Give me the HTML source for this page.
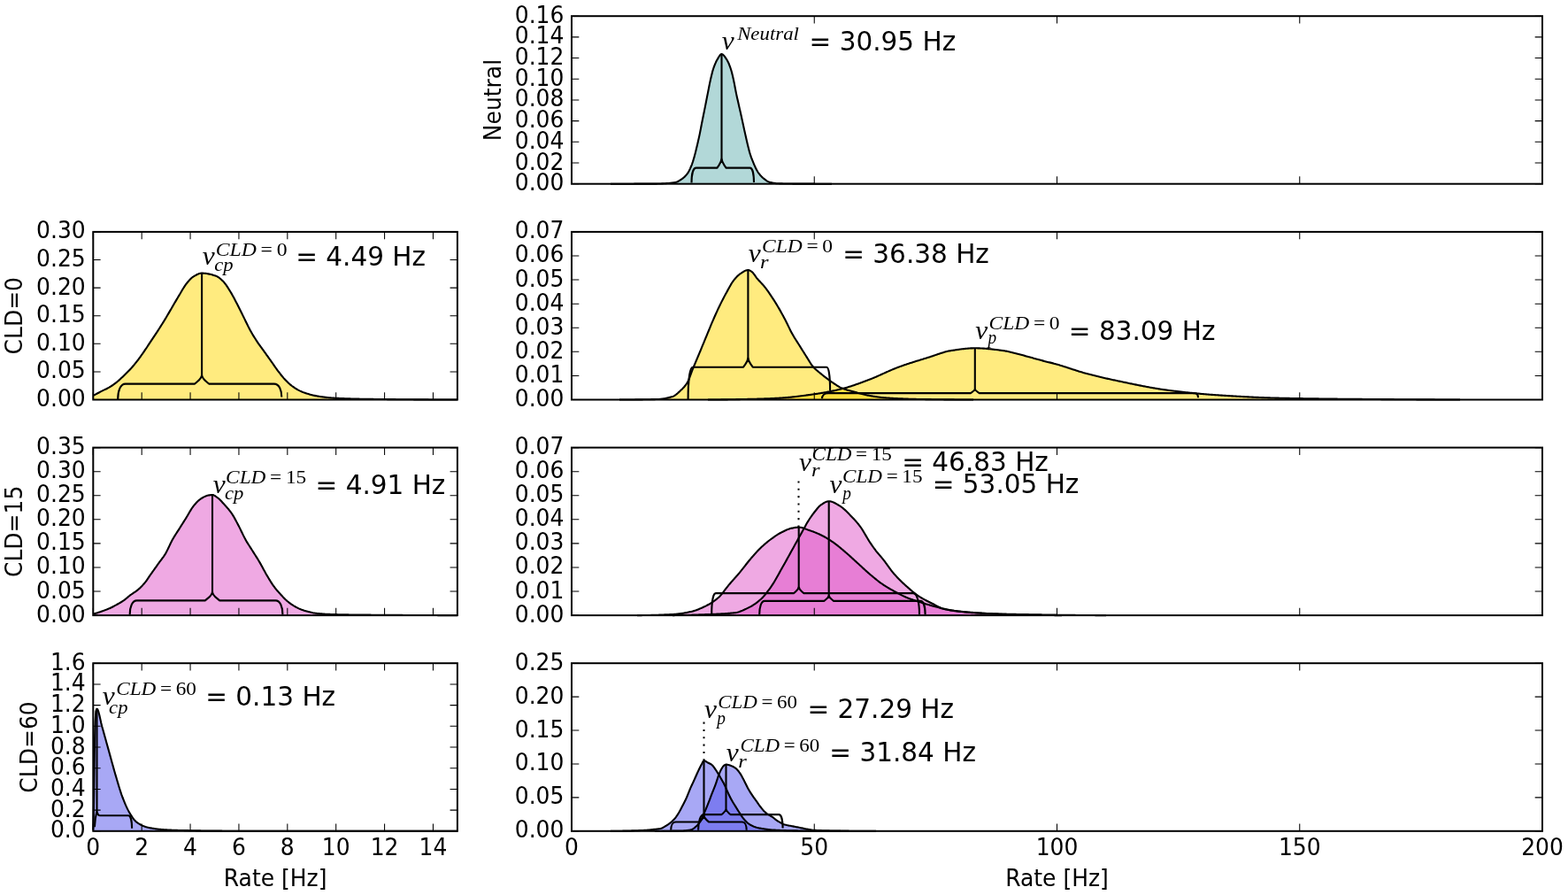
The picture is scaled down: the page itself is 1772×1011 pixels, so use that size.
<!DOCTYPE html>
<html><head><meta charset="utf-8"><title>Rate distributions</title><style>
html,body{margin:0;padding:0;background:#fff;}
svg{display:block;}
.t{font-family:"DejaVu Sans","Liberation Sans",sans-serif;font-size:25px;fill:#000;}
.a{font-family:"DejaVu Sans","Liberation Sans",sans-serif;font-size:29.5px;fill:#000;}
.mi{font-family:"Liberation Serif","DejaVu Serif",serif;font-style:italic;font-size:29.5px;fill:#000;}
.ms{font-family:"Liberation Serif","DejaVu Serif",serif;font-style:italic;font-size:20.4px;fill:#000;}
.mr{font-family:"Liberation Serif","DejaVu Serif",serif;font-size:20.4px;fill:#000;}
</style></head><body>
<svg width="1772" height="1011" viewBox="0 0 1772 1011">
<rect width="1772" height="1011" fill="#fff"/>
<path d="M690 207.7 691 207.7 692 207.7 693 207.7 694 207.7 695 207.7 696 207.7 697 207.7 698 207.7 699 207.7 700 207.7 701 207.7 702 207.7 703 207.69 704 207.69 705 207.69 706 207.69 707 207.69 708 207.69 709 207.69 710 207.69 711 207.69 712 207.68 713 207.68 714 207.68 715 207.68 716 207.68 717 207.67 718 207.67 719 207.67 720 207.67 721 207.67 722 207.66 723 207.66 724 207.66 725 207.66 726 207.65 727 207.65 728 207.65 729 207.64 730 207.64 731 207.64 732 207.63 733 207.63 734 207.63 735 207.62 736 207.62 737 207.61 738 207.61 739 207.6 740 207.6 741 207.59 742 207.58 743 207.56 744 207.53 745 207.51 746 207.47 747 207.43 748 207.39 749 207.34 750 207.29 751 207.24 752 207.18 753 207.12 754 207.06 755 207 756 206.93 757 206.85 758 206.75 759 206.64 760 206.52 761 206.37 762 206.21 763 206.02 763.1 206 764 205.77 765 205.42 766 204.97 767 204.45 768 203.87 769 203.24 770 202.57 770.7 202.1 771 201.89 772 201.14 773 200.3 774 199.37 775 198.32 776 197.15 776.9 196 777 195.86 778 194.31 779 192.45 780 190.33 781 188.01 781.5 186.8 782 185.51 783 182.57 784 179.31 784.5 177.6 785 175.81 786 171.93 787 167.81 787.6 165.3 788 163.62 789 159.33 790 154.86 790.7 151.6 791 150.15 792 145.05 793 139.8 793.7 136.2 794 134.7 795 129.77 796 124.87 796.8 120.9 797 119.89 798 114.8 799 109.66 799.8 105.6 800 104.59 801 99.45 802 94.4 802.9 90.2 803 89.76 804 85.42 805 81.39 806 78 807 75.16 808 72.6 809 70.32 810 68.34 810.6 67.3 811 66.63 812 64.9 813 63.27 814 61.96 815 61.21 815.5 61.1 816 61.17 817 61.7 818 62.65 819 63.9 820 65.34 821 66.85 821.3 67.3 822 68.45 823 70.43 824 72.77 825 75.41 825.9 78 826 78.3 827 81.76 828 85.81 829 90.2 830 95.11 831 100.48 832 105.6 833 110.2 834 114.58 835 118.96 835.1 119.4 836 123.39 837 127.82 838 132.3 838.2 133.2 839 136.86 840 141.5 841 146.1 841.2 147 842 150.61 843 155.09 844 159.43 844.3 160.7 845 163.66 846 167.83 847 171.64 847.4 173 848 174.89 849 177.8 850 180.47 851 182.96 852 185.3 853 187.57 854 189.75 855 191.77 856 193.56 856.6 194.5 857 195.08 858 196.44 859 197.7 860 198.85 861 199.89 862 200.81 862.7 201.4 863 201.64 864 202.43 865 203.19 866 203.91 867 204.56 868 205.13 869 205.59 870 205.93 870.3 206 871 206.15 872 206.36 873 206.55 874 206.72 875 206.87 876 207 877 207.11 878 207.19 879 207.26 880 207.3 881 207.33 882 207.36 883 207.38 884 207.4 885 207.43 886 207.45 887 207.47 888 207.48 889 207.5 890 207.51 891 207.53 892 207.54 893 207.55 894 207.56 895 207.57 896 207.58 897 207.58 898 207.59 899 207.6 900 207.6 901 207.6 902 207.61 903 207.61 904 207.62 905 207.62 906 207.63 907 207.63 908 207.63 909 207.64 910 207.64 911 207.65 912 207.65 913 207.65 914 207.66 915 207.66 916 207.66 917 207.66 918 207.67 919 207.67 920 207.67 921 207.68 922 207.68 923 207.68 924 207.68 925 207.68 926 207.69 927 207.69 928 207.69 929 207.69 930 207.69 931 207.69 932 207.7 933 207.7 934 207.7 935 207.7 936 207.7 937 207.7 938 207.7 939 207.7 940 207.7 L940 207.7 L690 207.7Z" fill="rgb(178,216,216)" stroke="none"/>
<path d="M105.3 446.9 106.3 446.37 107.3 445.83 108.3 445.31 109.31 444.78 110.31 444.25 111.31 443.73 112.31 443.21 113.31 442.69 114.31 442.17 115.31 441.65 115.8 441.4 116.32 441.14 117.32 440.64 118.32 440.16 119.32 439.68 120.32 439.19 121.32 438.69 122.32 438.17 123.33 437.62 123.7 437.4 124.33 437.03 125.33 436.4 126.33 435.75 127.33 435.07 128.33 434.36 129.34 433.63 130.34 432.88 131.34 432.11 131.6 431.9 132.34 431.31 133.34 430.47 134.34 429.6 135.34 428.7 136.35 427.77 137.35 426.84 138.35 425.89 139.35 424.94 139.6 424.7 140.35 423.99 141.35 423.03 142.35 422.06 143.36 421.08 144.36 420.09 145.36 419.07 146.36 418.02 147.36 416.95 147.5 416.8 148.36 415.85 149.36 414.71 150.37 413.54 151.37 412.35 152.37 411.13 153.37 409.88 154.37 408.62 155.37 407.33 155.4 407.3 156.37 406.03 157.38 404.68 158.38 403.31 159.38 401.91 160.38 400.5 161.38 399.07 162.38 397.63 163.3 396.3 163.38 396.18 164.39 394.71 165.39 393.22 166.39 391.71 167.39 390.19 168.39 388.67 169.39 387.14 170.39 385.62 171.2 384.4 171.4 384.1 172.4 382.6 173.4 381.11 174.4 379.61 175.4 378.12 176.4 376.61 177.41 375.1 178.41 373.57 179.1 372.5 179.41 372.02 180.41 370.46 181.41 368.89 182.41 367.31 183.41 365.72 184.42 364.11 185.42 362.49 186.42 360.86 187 359.9 187.42 359.2 188.42 357.53 189.42 355.83 190.42 354.11 191.43 352.38 192.43 350.65 193.43 348.92 194.43 347.2 194.9 346.4 195.43 345.49 196.43 343.78 197.43 342.06 198.44 340.35 199.44 338.64 200.44 336.94 201.44 335.25 202.44 333.59 202.8 333 203.44 331.93 204.44 330.24 205.45 328.53 206.45 326.83 207.45 325.17 208.45 323.58 209.45 322.09 210.45 320.74 210.8 320.3 211.45 319.5 212.46 318.3 213.46 317.13 214.46 316.02 215.46 314.99 216.46 314.06 217.46 313.23 218.46 312.54 218.7 312.4 219.47 311.95 220.47 311.37 221.47 310.8 222.47 310.27 223.47 309.78 224.47 309.36 225.48 309.02 226.48 308.77 227.48 308.63 228.1 308.6 228.48 308.6 229.48 308.63 230.48 308.69 231.48 308.78 232.49 308.89 233.49 309.03 234.49 309.2 235.49 309.39 236.49 309.6 237.49 309.83 238.49 310.07 239.5 310.34 240.5 310.62 241.5 310.91 242.5 311.22 243.5 311.54 243.7 311.6 244.5 311.9 245.5 312.39 246.51 312.99 247.51 313.69 248.51 314.47 249.51 315.31 250.51 316.2 251.51 317.12 251.6 317.2 252.51 318.12 253.52 319.28 254.52 320.57 255.52 321.96 256.52 323.43 257.52 324.95 258.52 326.51 259.52 328.08 259.6 328.2 260.53 329.69 261.53 331.39 262.53 333.15 263.53 334.98 264.53 336.85 265.53 338.75 266.54 340.66 267.5 342.5 267.54 342.57 268.54 344.5 269.54 346.47 270.54 348.47 271.54 350.49 272.54 352.52 273.55 354.56 274.55 356.59 275.4 358.3 275.55 358.6 276.55 360.63 277.55 362.69 278.55 364.77 279.55 366.83 280.56 368.87 281.56 370.84 282.56 372.75 283.3 374.1 283.56 374.56 284.56 376.3 285.56 377.99 286.56 379.64 287.57 381.24 288.57 382.8 289.57 384.34 290.57 385.86 291.2 386.8 291.57 387.35 292.57 388.8 293.57 390.22 294.58 391.61 295.58 392.98 296.58 394.34 297.58 395.7 298.58 397.08 299.1 397.8 299.58 398.48 300.58 399.88 301.59 401.29 302.59 402.69 303.59 404.1 304.59 405.51 305.59 406.92 306.59 408.33 307 408.9 307.59 409.74 308.6 411.17 309.6 412.61 310.6 414.05 311.6 415.49 312.6 416.9 313.6 418.28 314.61 419.62 314.9 420 315.61 420.91 316.61 422.2 317.61 423.48 318.61 424.73 319.61 425.94 320.61 427.12 321.62 428.24 322.62 429.31 322.8 429.5 323.62 430.33 324.62 431.31 325.62 432.27 326.62 433.19 327.62 434.08 328.63 434.92 329.63 435.72 330.63 436.48 330.8 436.6 331.63 437.19 332.63 437.88 333.63 438.54 334.63 439.17 335.64 439.77 336.64 440.34 337.64 440.87 338.64 441.37 338.7 441.4 339.64 441.84 340.64 442.29 341.64 442.71 342.65 443.12 343.65 443.5 344.65 443.86 345.65 444.2 346.6 444.5 346.65 444.52 347.65 444.82 348.65 445.11 349.66 445.4 350.66 445.67 351.66 445.94 352.66 446.2 353.66 446.45 354.66 446.68 355.66 446.9 356.67 447.11 357.67 447.31 358.67 447.49 359.67 447.65 360 447.7 360.67 447.8 361.67 447.95 362.68 448.09 363.68 448.23 364.68 448.36 365.68 448.49 366.68 448.62 367.68 448.74 368.68 448.86 369.69 448.97 370.69 449.08 371.69 449.18 372.69 449.28 373.69 449.37 374.69 449.46 375.69 449.54 376.7 449.61 377.7 449.67 378.7 449.73 379.7 449.79 380 449.8 380.7 449.83 381.7 449.88 382.7 449.92 383.71 449.97 384.71 450.01 385.71 450.05 386.71 450.09 387.71 450.13 388.71 450.17 389.71 450.2 390.72 450.24 391.72 450.27 392.72 450.31 393.72 450.34 394.72 450.37 395.72 450.4 396.72 450.43 397.73 450.46 398.73 450.49 399.73 450.52 400.73 450.55 401.73 450.57 402.73 450.6 403.74 450.62 404.74 450.64 405.74 450.67 406.74 450.69 407.74 450.71 408.74 450.73 409.74 450.75 410.75 450.77 411.75 450.78 412.75 450.8 413.75 450.82 414.75 450.83 415.75 450.85 416.75 450.86 417.76 450.87 418.76 450.89 419.76 450.9 420 450.9 420.76 450.91 421.76 450.92 422.76 450.93 423.76 450.94 424.77 450.95 425.77 450.96 426.77 450.97 427.77 450.98 428.77 450.99 429.77 451 430.77 451.01 431.78 451.03 432.78 451.04 433.78 451.05 434.78 451.06 435.78 451.07 436.78 451.07 437.78 451.08 438.79 451.09 439.79 451.1 440.79 451.11 441.79 451.12 442.79 451.13 443.79 451.14 444.79 451.15 445.8 451.16 446.8 451.17 447.8 451.18 448.8 451.19 449.8 451.19 450.8 451.2 451.81 451.21 452.81 451.22 453.81 451.23 454.81 451.23 455.81 451.24 456.81 451.25 457.81 451.26 458.82 451.27 459.82 451.27 460.82 451.28 461.82 451.29 462.82 451.3 463.82 451.3 464.82 451.31 465.83 451.32 466.83 451.32 467.83 451.33 468.83 451.34 469.83 451.34 470.83 451.35 471.83 451.36 472.84 451.36 473.84 451.37 474.84 451.37 475.84 451.38 476.84 451.38 477.84 451.39 478.84 451.4 479.85 451.4 480.85 451.41 481.85 451.41 482.85 451.42 483.85 451.42 484.85 451.43 485.85 451.43 486.86 451.43 487.86 451.44 488.86 451.44 489.86 451.45 490.86 451.45 491.86 451.45 492.86 451.46 493.87 451.46 494.87 451.46 495.87 451.47 496.87 451.47 497.87 451.47 498.87 451.48 499.88 451.48 500.88 451.48 501.88 451.48 502.88 451.49 503.88 451.49 504.88 451.49 505.88 451.49 506.89 451.49 507.89 451.49 508.89 451.5 509.89 451.5 510.89 451.5 511.89 451.5 512.89 451.5 513.9 451.5 514.9 451.5 515.9 451.5 516.9 451.5 L516.9 451.5 L105.3 451.5Z" fill="rgba(255,215,0,0.5)" stroke="none"/>
<path d="M700 451.5 701 451.5 702 451.5 703 451.5 704 451.5 705 451.49 706 451.49 707 451.49 708 451.49 709 451.48 710 451.48 711 451.47 712 451.47 713 451.46 714 451.45 715 451.45 716 451.44 717 451.43 718 451.42 719 451.41 720 451.4 721 451.39 722 451.38 723 451.37 724 451.36 725 451.35 726 451.33 727 451.32 728 451.3 729 451.29 730 451.27 731 451.26 732 451.24 733 451.22 734 451.2 735 451.19 736 451.17 737 451.15 738 451.12 739 451.1 740 451.08 741 451.06 742 451.03 743 451.01 743.4 451 744 450.98 745 450.93 746 450.86 747 450.77 748 450.66 749 450.53 750 450.38 751 450.22 752 450.03 753 449.83 754 449.61 755 449.38 756 449.13 757 448.87 758 448.59 759 448.3 760 448 761 447.62 762 447.1 763 446.47 764 445.74 765 444.93 766 444.06 767 443.15 768 442.22 769 441.29 769.2 441.1 770 440.35 771 439.38 772 438.35 773 437.24 774 436.05 775 434.75 776 433.31 776.9 431.9 777 431.73 778 429.77 779 427.39 780 424.73 781 421.95 782 419.19 783 416.6 784 414.17 785 411.76 786 409.38 787 407 788 404.63 789 402.26 790 399.88 790.7 398.2 791 397.48 792 395.07 793 392.64 794 390.22 795 387.79 796 385.37 797 382.94 798 380.52 798.3 379.8 799 378.11 800 375.67 801 373.23 802 370.79 803 368.37 804 365.97 805 363.61 806 361.3 807 359.02 808 356.77 809 354.54 810 352.34 811 350.17 812 348.03 813 345.94 813.7 344.5 814 343.89 815 341.87 816 339.89 817 337.93 818 336.01 819 334.12 820 332.26 821 330.44 821.3 329.9 822 328.63 823 326.79 824 324.95 825 323.15 826 321.4 827 319.76 828 318.25 829 316.9 830 315.67 831 314.49 832 313.37 833 312.32 834 311.35 835 310.47 836 309.69 836.7 309.2 837 309 838 308.33 839 307.66 840 307.01 841 306.41 842 305.89 843 305.47 844 305.17 845 305.01 845.4 305 846 305.06 847 305.39 848 305.93 849 306.57 849.5 306.9 850 307.28 851 308.28 852 309.54 853 310.94 854 312.4 855 313.79 855.8 314.8 856 315.03 857 316.17 858 317.25 859 318.31 860 319.36 861 320.42 862 321.52 863 322.66 863.7 323.5 864 323.87 865 325.14 866 326.46 867 327.82 868 329.22 869 330.64 870 332.09 871 333.56 871.7 334.6 872 335.05 873 336.55 874 338.09 875 339.66 876 341.25 877 342.87 878 344.52 879 346.19 879.6 347.2 880 347.88 881 349.61 882 351.37 883 353.15 884 354.97 885 356.81 886 358.67 887 360.55 887.5 361.5 888 362.46 889 364.45 890 366.5 891 368.58 892 370.66 893 372.7 894 374.69 895 376.58 895.4 377.3 896 378.35 897 380.05 898 381.69 899 383.28 900 384.84 901 386.39 902 387.95 903 389.52 903.3 390 904 391.12 905 392.73 906 394.34 907 395.95 908 397.55 909 399.15 910 400.73 911 402.29 911.2 402.6 912 403.86 913 405.48 914 407.11 915 408.73 916 410.3 917 411.79 918 413.16 919 414.39 919.1 414.5 920 415.47 921 416.48 922 417.41 923 418.29 924 419.13 925 419.95 926 420.77 927 421.6 928 422.43 929 423.25 930 424.05 931 424.84 932 425.62 933 426.39 934 427.15 935 427.9 936 428.64 937 429.38 938 430.11 939 430.83 940 431.54 941 432.23 942 432.91 942.9 433.5 943 433.56 944 434.22 945 434.88 946 435.54 947 436.17 948 436.77 949 437.34 950 437.84 950.8 438.2 951 438.28 952 438.68 953 439.06 954 439.42 955 439.76 956 440.08 957 440.39 958 440.69 959 440.97 960 441.25 961 441.52 962 441.78 963 442.05 964 442.31 965 442.57 966 442.84 966.6 443 967 443.11 968 443.38 969 443.66 970 443.93 971 444.21 972 444.48 973 444.75 974 445.01 975 445.27 976 445.52 977 445.76 978 446 979 446.22 980 446.44 981 446.64 982 446.83 982.4 446.9 983 447.01 984 447.18 985 447.35 986 447.52 987 447.69 988 447.85 989 448.01 990 448.16 991 448.31 992 448.45 993 448.58 994 448.71 995 448.83 996 448.94 997 449.05 998 449.14 999 449.23 1000 449.3 1001 449.37 1002 449.44 1003 449.5 1004 449.57 1005 449.63 1006 449.69 1007 449.75 1008 449.81 1009 449.87 1010 449.93 1011 449.99 1012 450.04 1013 450.09 1014 450.14 1015 450.19 1016 450.24 1017 450.29 1018 450.34 1019 450.38 1020 450.42 1021 450.47 1022 450.51 1023 450.55 1024 450.58 1025 450.62 1026 450.66 1027 450.69 1028 450.72 1029 450.75 1030 450.78 1031 450.81 1032 450.84 1033 450.86 1034 450.89 1035 450.91 1036 450.93 1037 450.95 1038 450.97 1039 450.98 1040 451 1041 451.01 1042 451.03 1043 451.04 1044 451.06 1045 451.07 1046 451.08 1047 451.1 1048 451.11 1049 451.13 1050 451.14 1051 451.15 1052 451.16 1053 451.18 1054 451.19 1055 451.2 1056 451.21 1057 451.23 1058 451.24 1059 451.25 1060 451.26 1061 451.27 1062 451.28 1063 451.29 1064 451.3 1065 451.31 1066 451.32 1067 451.33 1068 451.34 1069 451.35 1070 451.36 1071 451.37 1072 451.38 1073 451.38 1074 451.39 1075 451.4 1076 451.41 1077 451.42 1078 451.42 1079 451.43 1080 451.44 1081 451.44 1082 451.45 1083 451.45 1084 451.46 1085 451.46 1086 451.47 1087 451.47 1088 451.48 1089 451.48 1090 451.48 1091 451.49 1092 451.49 1093 451.49 1094 451.49 1095 451.5 1096 451.5 1097 451.5 1098 451.5 1099 451.5 1100 451.5 L1100 451.5 L700 451.5Z" fill="rgba(255,215,0,0.5)" stroke="none"/>
<path d="M800 451.5 801 451.5 802 451.5 803 451.5 804 451.49 805 451.49 806 451.49 807 451.48 808 451.47 809 451.47 810 451.46 811 451.45 812 451.44 813 451.44 814 451.43 815 451.42 816 451.4 817 451.39 818 451.38 819 451.37 820 451.35 821 451.34 822 451.33 823 451.31 824 451.3 825 451.28 826 451.27 827 451.25 828 451.23 829 451.22 830 451.2 831 451.18 832 451.16 833 451.14 834 451.12 835 451.11 836 451.09 837 451.07 838 451.05 839 451.03 840 451.01 841 450.99 842 450.97 843 450.95 844 450.93 845 450.9 846 450.88 847 450.86 848 450.84 849 450.82 850 450.8 851 450.78 852 450.76 853 450.73 854 450.71 855 450.68 856 450.66 857 450.63 858 450.6 859 450.57 860 450.54 861 450.51 862 450.48 863 450.44 864 450.41 865 450.37 866 450.34 867 450.3 868 450.26 869 450.22 870 450.18 871 450.13 872 450.09 873 450.05 874 450 875 449.95 876 449.91 877 449.86 878 449.81 879 449.75 880 449.7 881 449.64 882 449.58 883 449.52 884 449.45 885 449.38 886 449.31 887 449.23 888 449.15 889 449.06 890 448.98 891 448.88 892 448.79 893 448.69 894 448.59 895 448.49 896 448.38 897 448.28 898 448.17 899 448.05 900 447.94 901 447.82 902 447.7 903 447.58 904 447.45 905 447.33 906 447.2 907 447.07 908 446.94 909 446.81 910 446.68 911 446.54 912 446.41 913 446.27 914 446.13 915 445.99 916 445.85 917 445.71 918 445.57 919 445.43 920 445.29 920.6 445.2 921 445.14 922 445 923 444.85 924 444.7 925 444.54 926 444.38 927 444.22 928 444.05 929 443.89 930 443.71 931 443.54 932 443.36 933 443.18 934 442.99 935 442.8 936 442.61 937 442.42 938 442.22 939 442.01 940 441.81 941 441.6 942 441.39 943 441.17 944 440.95 945 440.73 946 440.51 947 440.28 948 440.04 949 439.81 950 439.57 951 439.32 951.1 439.3 952 439.08 953 438.82 954 438.55 955 438.28 956 438 957 437.71 958 437.41 959 437.11 960 436.79 961 436.48 962 436.16 963 435.83 964 435.49 965 435.16 966 434.81 967 434.46 968 434.11 969 433.76 970 433.4 971 433.04 972 432.67 973 432.31 974 431.94 975 431.57 976 431.2 977 430.82 978 430.45 979 430.07 980 429.7 981 429.32 981.6 429.1 982 428.95 983 428.57 984 428.18 985 427.78 986 427.37 987 426.96 988 426.54 989 426.11 990 425.68 991 425.24 992 424.8 993 424.36 994 423.91 995 423.46 996 423.01 997 422.56 998 422.1 999 421.65 1000 421.2 1001 420.74 1002 420.29 1003 419.85 1004 419.4 1005 418.96 1006 418.52 1007 418.09 1008 417.66 1009 417.24 1010 416.82 1011 416.41 1012 416.01 1013 415.61 1014 415.23 1015 414.85 1015.4 414.7 1016 414.48 1017 414.12 1018 413.76 1019 413.4 1020 413.05 1021 412.7 1022 412.36 1023 412.01 1024 411.68 1025 411.34 1026 411.01 1027 410.68 1028 410.35 1029 410.03 1030 409.71 1031 409.39 1032 409.07 1033 408.75 1034 408.43 1035 408.12 1036 407.81 1037 407.5 1038 407.19 1039 406.88 1040 406.57 1041 406.26 1042 405.95 1043 405.64 1044 405.34 1045 405.03 1046 404.72 1047 404.41 1048 404.1 1049 403.79 1049.3 403.7 1050 403.48 1051 403.16 1052 402.83 1053 402.5 1054 402.16 1055 401.81 1056 401.47 1057 401.12 1058 400.77 1059 400.42 1060 400.08 1061 399.74 1062 399.4 1063 399.07 1064 398.75 1065 398.44 1066 398.14 1067 397.84 1068 397.56 1069 397.3 1070 397.05 1071 396.81 1072 396.59 1073 396.39 1074 396.21 1074.7 396.1 1075 396.05 1076 395.9 1077 395.75 1078 395.59 1079 395.44 1080 395.29 1081 395.14 1082 395 1083 394.86 1084 394.72 1085 394.58 1086 394.45 1087 394.33 1088 394.21 1089 394.09 1090 393.98 1091 393.88 1092 393.78 1093 393.7 1094 393.62 1095 393.54 1096 393.48 1097 393.42 1098 393.38 1099 393.34 1100 393.32 1101 393.3 1101.8 393.3 1102 393.3 1103 393.31 1104 393.32 1105 393.34 1106 393.37 1107 393.4 1108 393.44 1109 393.49 1110 393.55 1111 393.61 1112 393.67 1113 393.75 1114 393.82 1115 393.91 1116 393.99 1117 394.08 1118 394.18 1119 394.28 1120 394.38 1121 394.49 1122 394.6 1123 394.72 1124 394.84 1125 394.95 1126 395.08 1127 395.2 1128 395.33 1129 395.46 1130 395.59 1131 395.72 1132 395.85 1133 395.98 1133.9 396.1 1134 396.11 1135 396.26 1136 396.43 1137 396.61 1138 396.81 1139 397.02 1140 397.25 1141 397.49 1142 397.73 1143 397.99 1144 398.25 1145 398.51 1146 398.77 1147 399.03 1148 399.29 1149 399.55 1150 399.8 1151 400.05 1152 400.3 1153 400.56 1154 400.81 1155 401.08 1156 401.34 1157 401.61 1158 401.87 1159 402.15 1160 402.42 1161 402.69 1162 402.97 1163 403.24 1164 403.52 1165 403.8 1166 404.08 1167 404.36 1168 404.64 1169 404.92 1170 405.19 1171 405.47 1172 405.75 1173 406.02 1174 406.3 1175 406.57 1176 406.84 1177 407.11 1178 407.38 1179 407.64 1180 407.9 1181 408.16 1182 408.41 1183 408.66 1184 408.9 1185 409.15 1186 409.39 1187 409.64 1188 409.89 1189 410.14 1190 410.39 1191 410.65 1192 410.92 1192.3 411 1193 411.19 1194 411.47 1195 411.76 1196 412.05 1197 412.34 1198 412.64 1199 412.95 1200 413.26 1201 413.57 1202 413.88 1203 414.2 1204 414.52 1205 414.84 1206 415.17 1207 415.49 1208 415.82 1209 416.15 1210 416.47 1211 416.8 1212 417.13 1213 417.45 1214 417.78 1215 418.1 1216 418.43 1217 418.75 1218 419.06 1219 419.38 1220 419.69 1221 420 1222 420.3 1223 420.6 1224 420.9 1225 421.19 1226 421.48 1227 421.76 1228 422.03 1229 422.3 1230 422.56 1231 422.83 1232 423.08 1233 423.34 1234 423.6 1235 423.85 1236 424.1 1237 424.35 1238 424.59 1239 424.84 1240 425.08 1241 425.32 1242 425.56 1243 425.8 1244 426.03 1245 426.27 1246 426.5 1247 426.73 1248 426.96 1249 427.18 1250 427.41 1251 427.63 1252 427.86 1253 428.08 1254 428.3 1255 428.52 1256 428.73 1257 428.95 1258 429.16 1259 429.38 1260 429.59 1261 429.8 1262 430.01 1262.9 430.2 1263 430.22 1264 430.43 1265 430.64 1266 430.85 1267 431.06 1268 431.27 1269 431.48 1270 431.69 1271 431.9 1272 432.11 1273 432.32 1274 432.53 1275 432.74 1276 432.95 1277 433.16 1278 433.36 1279 433.57 1280 433.78 1281 433.98 1282 434.19 1283 434.39 1284 434.6 1285 434.8 1286 435 1287 435.2 1288 435.4 1289 435.6 1290 435.79 1291 435.99 1292 436.18 1293 436.38 1294 436.57 1295 436.76 1296 436.95 1297 437.13 1298 437.32 1299 437.5 1300 437.68 1301 437.86 1302 438.03 1303 438.21 1304 438.38 1305 438.55 1306 438.72 1307 438.88 1308 439.05 1309 439.21 1310 439.37 1311 439.52 1312 439.67 1313 439.82 1314 439.97 1315 440.11 1316 440.26 1317 440.39 1318 440.53 1319 440.66 1319.3 440.7 1320 440.79 1321 440.92 1322 441.05 1323 441.17 1324 441.3 1325 441.42 1326 441.55 1327 441.67 1328 441.79 1329 441.91 1330 442.03 1331 442.15 1332 442.27 1333 442.38 1334 442.5 1335 442.61 1336 442.73 1337 442.84 1338 442.95 1339 443.06 1340 443.17 1341 443.28 1342 443.38 1343 443.49 1344 443.59 1345 443.7 1346 443.8 1347 443.9 1348 444 1349 444.1 1350 444.2 1351 444.29 1352 444.39 1353 444.48 1354 444.58 1355 444.67 1356 444.76 1357 444.85 1358 444.94 1359 445.02 1360 445.11 1361 445.2 1362 445.28 1363 445.36 1364 445.44 1365 445.52 1366 445.6 1367 445.68 1368 445.76 1369 445.83 1370 445.9 1371 445.98 1372 446.05 1373 446.12 1374 446.19 1375 446.25 1375.7 446.3 1376 446.32 1377 446.39 1378 446.45 1379 446.52 1380 446.58 1381 446.64 1382 446.71 1383 446.77 1384 446.84 1385 446.9 1386 446.96 1387 447.03 1388 447.09 1389 447.15 1390 447.21 1391 447.27 1392 447.33 1393 447.39 1394 447.45 1395 447.51 1396 447.57 1397 447.63 1398 447.69 1399 447.75 1400 447.8 1401 447.86 1402 447.92 1403 447.97 1404 448.03 1405 448.08 1406 448.14 1407 448.19 1408 448.24 1409 448.29 1410 448.35 1411 448.4 1412 448.45 1413 448.5 1414 448.55 1415 448.59 1416 448.64 1417 448.69 1418 448.74 1419 448.78 1420 448.83 1421 448.87 1422 448.91 1423 448.96 1424 449 1425 449.04 1426 449.08 1427 449.12 1428 449.16 1429 449.19 1430 449.23 1431 449.27 1432 449.3 1433 449.34 1434 449.37 1435 449.4 1436 449.43 1437 449.46 1438 449.49 1439 449.52 1440 449.55 1441 449.58 1442 449.6 1443 449.63 1444 449.65 1445 449.67 1446 449.69 1446.3 449.7 1447 449.71 1448 449.73 1449 449.76 1450 449.78 1451 449.79 1452 449.81 1453 449.83 1454 449.85 1455 449.87 1456 449.89 1457 449.91 1458 449.93 1459 449.95 1460 449.96 1461 449.98 1462 450 1463 450.02 1464 450.03 1465 450.05 1466 450.07 1467 450.09 1468 450.1 1469 450.12 1470 450.13 1471 450.15 1472 450.17 1473 450.18 1474 450.2 1475 450.21 1476 450.23 1477 450.24 1478 450.26 1479 450.27 1480 450.29 1481 450.3 1482 450.32 1483 450.33 1484 450.34 1485 450.36 1486 450.37 1487 450.38 1488 450.4 1489 450.41 1490 450.42 1491 450.44 1492 450.45 1493 450.46 1494 450.48 1495 450.49 1496 450.5 1497 450.51 1498 450.52 1499 450.54 1500 450.55 1501 450.56 1502 450.57 1503 450.58 1504 450.59 1505 450.6 1506 450.61 1507 450.63 1508 450.64 1509 450.65 1510 450.66 1511 450.67 1512 450.68 1513 450.69 1514 450.7 1515 450.71 1516 450.72 1517 450.73 1518 450.74 1519 450.75 1520 450.76 1521 450.77 1522 450.77 1523 450.78 1524 450.79 1525 450.8 1526 450.81 1527 450.82 1528 450.83 1529 450.84 1530 450.85 1531 450.85 1532 450.86 1533 450.87 1534 450.88 1535 450.89 1536 450.89 1537 450.9 1538 450.91 1539 450.92 1540 450.93 1541 450.93 1542 450.94 1543 450.95 1544 450.96 1545 450.96 1546 450.97 1547 450.98 1548 450.99 1549 450.99 1550 451 1551 451.01 1552 451.01 1553 451.02 1554 451.03 1555 451.04 1556 451.04 1557 451.05 1558 451.06 1559 451.06 1560 451.07 1561 451.08 1562 451.08 1563 451.09 1564 451.1 1565 451.11 1566 451.11 1567 451.12 1568 451.13 1569 451.13 1570 451.14 1571 451.15 1572 451.15 1573 451.16 1574 451.17 1575 451.17 1576 451.18 1577 451.19 1578 451.19 1579 451.2 1580 451.2 1581 451.21 1582 451.22 1583 451.22 1584 451.23 1585 451.24 1586 451.24 1587 451.25 1588 451.25 1589 451.26 1590 451.27 1591 451.27 1592 451.28 1593 451.28 1594 451.29 1595 451.3 1596 451.3 1597 451.31 1598 451.31 1599 451.32 1600 451.32 1601 451.33 1602 451.33 1603 451.34 1604 451.34 1605 451.35 1606 451.35 1607 451.36 1608 451.36 1609 451.37 1610 451.37 1611 451.38 1612 451.38 1613 451.39 1614 451.39 1615 451.4 1616 451.4 1617 451.41 1618 451.41 1619 451.41 1620 451.42 1621 451.42 1622 451.43 1623 451.43 1624 451.43 1625 451.44 1626 451.44 1627 451.44 1628 451.45 1629 451.45 1630 451.45 1631 451.46 1632 451.46 1633 451.46 1634 451.47 1635 451.47 1636 451.47 1637 451.47 1638 451.48 1639 451.48 1640 451.48 1641 451.48 1642 451.49 1643 451.49 1644 451.49 1645 451.49 1646 451.49 1647 451.5 1648 451.5 1649 451.5 1650 451.5 L1650 451.5 L800 451.5Z" fill="rgba(255,215,0,0.5)" stroke="none"/>
<path d="M105.3 693.6 106.3 693.32 107.3 693.04 108.3 692.75 109.31 692.44 110.31 692.13 111.31 691.81 112.31 691.49 113.31 691.16 114.31 690.82 115.31 690.47 115.8 690.3 116.32 690.12 117.32 689.76 118.32 689.39 119.32 689.01 120.32 688.61 121.32 688.21 122.32 687.79 123.33 687.36 123.7 687.2 124.33 686.92 125.33 686.45 126.33 685.97 127.33 685.47 128.33 684.95 129.34 684.43 130.34 683.89 131.34 683.34 131.6 683.2 132.34 682.79 133.34 682.23 134.34 681.67 135.34 681.09 136.35 680.49 137.35 679.87 138.35 679.24 139.35 678.57 139.6 678.4 140.35 677.87 141.35 677.11 142.35 676.3 143.36 675.47 144.36 674.63 145.36 673.79 146.36 672.98 147.36 672.2 147.5 672.1 148.36 671.48 149.36 670.79 150.37 670.13 151.37 669.48 152.37 668.82 153.37 668.13 154.37 667.41 155.37 666.62 155.4 666.6 156.37 665.78 157.38 664.89 158.38 663.95 159.38 662.96 160.38 661.94 161.38 660.87 162.38 659.75 163.3 658.7 163.38 658.6 164.39 657.37 165.39 656.03 166.39 654.63 167.39 653.18 168.39 651.7 169.39 650.21 170.39 648.75 171.2 647.6 171.4 647.32 172.4 645.92 173.4 644.51 174.4 643.1 175.4 641.7 176.4 640.29 177.41 638.88 178.41 637.47 179.1 636.5 179.41 636.07 180.41 634.7 181.41 633.37 182.41 632.04 183.41 630.7 184.42 629.32 185.42 627.87 186.42 626.34 187 625.4 187.42 624.69 188.42 622.84 189.42 620.85 190.42 618.75 191.43 616.6 192.43 614.47 193.43 612.4 194.43 610.46 194.9 609.6 195.43 608.67 196.43 606.98 197.43 605.35 198.44 603.76 199.44 602.21 200.44 600.67 201.44 599.13 202.44 597.57 202.8 597 203.44 595.98 204.44 594.39 205.45 592.8 206.45 591.21 207.45 589.63 208.45 588.04 209.45 586.45 210.45 584.85 210.8 584.3 211.45 583.23 212.46 581.55 213.46 579.82 214.46 578.09 215.46 576.39 216.46 574.77 217.46 573.26 218.46 571.9 218.7 571.6 219.47 570.67 220.47 569.48 221.47 568.34 222.47 567.27 223.47 566.27 224.47 565.34 225.48 564.51 226.48 563.78 226.6 563.7 227.48 563.13 228.48 562.5 229.48 561.9 230.48 561.35 231.48 560.85 232.49 560.42 233.49 560.07 234.49 559.8 234.5 559.8 235.49 559.59 236.49 559.38 237.49 559.21 238.49 559.08 239.5 559.01 240 559 240.5 559.04 241.5 559.33 242.5 559.84 243.5 560.5 244.5 561.24 245.5 561.99 245.8 562.2 246.51 562.73 247.51 563.57 248.51 564.5 249.51 565.51 250.51 566.58 251.51 567.68 252.51 568.79 253.52 569.9 253.7 570.1 254.52 570.99 255.52 572.09 256.52 573.21 257.52 574.36 258.52 575.55 259.52 576.8 260.53 578.11 261.53 579.5 261.6 579.6 262.53 580.99 263.53 582.61 264.53 584.33 265.53 586.13 266.54 587.99 267.54 589.88 268.54 591.79 269.54 593.69 269.6 593.8 270.54 595.62 271.54 597.63 272.54 599.7 273.55 601.79 274.55 603.86 275.55 605.89 276.55 607.85 277.5 609.6 277.55 609.69 278.55 611.43 279.55 613.1 280.56 614.72 281.56 616.3 282.56 617.85 283.56 619.41 284.56 620.97 285.4 622.3 285.56 622.56 286.56 624.15 287.57 625.72 288.57 627.28 289.57 628.85 290.57 630.43 291.57 632.04 292.57 633.68 293.3 634.9 293.57 635.37 294.58 637.13 295.58 638.94 296.58 640.8 297.58 642.67 298.58 644.53 299.58 646.36 300.58 648.14 301.2 649.2 301.59 649.86 302.59 651.55 303.59 653.24 304.59 654.9 305.59 656.53 306.59 658.12 307.59 659.64 308.6 661.1 309.1 661.8 309.6 662.48 310.6 663.79 311.6 665.06 312.6 666.29 313.6 667.48 314.61 668.63 315.61 669.76 316.61 670.87 317 671.3 317.61 671.96 318.61 673.05 319.61 674.12 320.61 675.16 321.62 676.18 322.62 677.16 323.62 678.09 324.62 678.97 324.9 679.2 325.62 679.79 326.62 680.59 327.62 681.35 328.63 682.09 329.63 682.79 330.63 683.46 331.63 684.1 332.63 684.7 332.8 684.8 333.63 685.28 334.63 685.83 335.64 686.36 336.64 686.87 337.64 687.36 338.64 687.82 339.64 688.24 340.64 688.64 340.8 688.7 341.64 689.01 342.65 689.36 343.65 689.69 344.65 690 345.65 690.29 346.65 690.57 347.65 690.84 348.65 691.09 348.7 691.1 349.66 691.33 350.66 691.57 351.66 691.8 352.66 692.02 353.66 692.23 354.66 692.41 355.66 692.57 356.6 692.7 356.67 692.71 357.67 692.83 358.67 692.94 359.67 693.05 360.67 693.15 361.67 693.24 362.68 693.33 363.68 693.42 364.68 693.5 365.68 693.57 366.68 693.63 367.68 693.69 368.68 693.74 369.69 693.79 370 693.8 370.69 693.83 371.69 693.86 372.69 693.9 373.69 693.94 374.69 693.97 375.69 694 376.7 694.04 377.7 694.07 378.7 694.1 379.7 694.13 380.7 694.15 381.7 694.18 382.7 694.21 383.71 694.23 384.71 694.25 385.71 694.28 386.71 694.3 387.71 694.32 388.71 694.34 389.71 694.36 390.72 694.38 391.72 694.39 392.72 694.41 393.72 694.42 394.72 694.44 395.72 694.45 396.72 694.46 397.73 694.48 398.73 694.49 399.73 694.5 400 694.5 400.73 694.51 401.73 694.52 402.73 694.53 403.74 694.54 404.74 694.54 405.74 694.55 406.74 694.56 407.74 694.57 408.74 694.58 409.74 694.59 410.75 694.6 411.75 694.61 412.75 694.62 413.75 694.63 414.75 694.63 415.75 694.64 416.75 694.65 417.76 694.66 418.76 694.67 419.76 694.68 420.76 694.69 421.76 694.69 422.76 694.7 423.76 694.71 424.77 694.72 425.77 694.73 426.77 694.73 427.77 694.74 428.77 694.75 429.77 694.76 430.77 694.76 431.78 694.77 432.78 694.78 433.78 694.79 434.78 694.79 435.78 694.8 436.78 694.81 437.78 694.81 438.79 694.82 439.79 694.83 440.79 694.83 441.79 694.84 442.79 694.85 443.79 694.85 444.79 694.86 445.8 694.87 446.8 694.87 447.8 694.88 448.8 694.89 449.8 694.89 450.8 694.9 451.81 694.9 452.81 694.91 453.81 694.92 454.81 694.92 455.81 694.93 456.81 694.93 457.81 694.94 458.82 694.94 459.82 694.95 460.82 694.95 461.82 694.96 462.82 694.96 463.82 694.97 464.82 694.97 465.83 694.98 466.83 694.98 467.83 694.99 468.83 694.99 469.83 695 470.83 695 471.83 695 472.84 695.01 473.84 695.01 474.84 695.02 475.84 695.02 476.84 695.02 477.84 695.03 478.84 695.03 479.85 695.03 480.85 695.04 481.85 695.04 482.85 695.04 483.85 695.05 484.85 695.05 485.85 695.05 486.86 695.06 487.86 695.06 488.86 695.06 489.86 695.06 490.86 695.07 491.86 695.07 492.86 695.07 493.87 695.07 494.87 695.08 495.87 695.08 496.87 695.08 497.87 695.08 498.87 695.08 499.88 695.09 500.88 695.09 501.88 695.09 502.88 695.09 503.88 695.09 504.88 695.09 505.88 695.09 506.89 695.1 507.89 695.1 508.89 695.1 509.89 695.1 510.89 695.1 511.89 695.1 512.89 695.1 513.9 695.1 514.9 695.1 515.9 695.1 516.9 695.1 L516.9 695.1 L105.3 695.1Z" fill="rgba(223,83,199,0.5)" stroke="none"/>
<path d="M720 695.1 721 695.1 722 695.1 723 695.09 724 695.09 725 695.08 726 695.07 727 695.06 728 695.05 729 695.04 730 695.02 731 695.01 732 694.99 733 694.97 734 694.95 735 694.93 736 694.91 737 694.88 738 694.86 739 694.83 740 694.81 741 694.78 742 694.75 743 694.72 744 694.68 745 694.65 746 694.61 747 694.58 748 694.54 749 694.5 750 694.46 751 694.42 752 694.38 753 694.34 754 694.3 755 694.25 756 694.21 757 694.16 758 694.11 759 694.06 760 694.01 760.3 694 761 693.96 762 693.9 763 693.82 764 693.73 765 693.63 766 693.53 767 693.41 768 693.28 769 693.14 770 692.99 771 692.84 772 692.67 773 692.5 774 692.32 775 692.14 776 691.95 777 691.75 778 691.55 779 691.34 780 691.13 780.6 691 781 690.91 782 690.67 783 690.41 784 690.13 785 689.82 786 689.5 787 689.15 788 688.78 789 688.4 790 688 791 687.59 792 687.16 793 686.71 794 686.26 795 685.79 796 685.31 797 684.82 798 684.32 799 683.81 800 683.3 801 682.77 802 682.21 803 681.62 804 681 805 680.34 806 679.66 807 678.95 808 678.21 809 677.43 810 676.62 811 675.78 811.9 675 812 674.91 813 673.96 814 672.91 815 671.77 816 670.57 817 669.31 818 668.02 819 666.7 820 665.38 821 664.07 822 662.78 823 661.54 823.7 660.7 824 660.35 825 659.19 826 658.04 827 656.91 828 655.78 829 654.66 830 653.54 831 652.41 832 651.28 833 650.14 834 648.98 835 647.81 835.6 647.1 836 646.62 837 645.4 838 644.15 839 642.89 840 641.61 841 640.32 842 639.04 843 637.76 844 636.48 845 635.23 846 634 847 632.79 847.5 632.2 848 631.61 849 630.44 850 629.28 851 628.12 852 626.97 853 625.84 854 624.72 855 623.62 856 622.54 857 621.5 858 620.48 859 619.49 859.3 619.2 860 618.53 861 617.6 862 616.68 863 615.78 864 614.89 865 614.03 866 613.18 867 612.36 868 611.55 869 610.76 870 610 871 609.25 871.2 609.1 872 608.51 873 607.79 874 607.07 875 606.36 876 605.67 877 605 878 604.34 879 603.71 880 603.1 881 602.52 882 601.97 883 601.45 883.1 601.4 884 600.95 885 600.45 886 599.96 887 599.48 888 599.01 889 598.56 890 598.14 891 597.75 892 597.4 893 597.08 894 596.82 895 596.6 896 596.41 897 596.22 898 596.05 899 595.9 900 595.77 901 595.67 902 595.61 902.7 595.6 903 595.6 904 595.68 905 595.83 906 596.04 907 596.32 908 596.63 909 596.99 910 597.36 911 597.74 912 598.12 913 598.49 913.9 598.8 914 598.83 915 599.17 916 599.51 917 599.87 918 600.23 919 600.6 920 600.98 921 601.38 922 601.78 923 602.19 924 602.62 925 603.06 926 603.51 927 603.97 927.7 604.3 928 604.44 929 604.94 930 605.45 931 605.99 932 606.54 933 607.11 934 607.7 935 608.3 936 608.92 937 609.55 938 610.19 939 610.85 940 611.51 941 612.19 941.6 612.6 942 612.88 943 613.59 944 614.32 945 615.08 946 615.85 947 616.65 948 617.46 949 618.28 950 619.11 951 619.96 952 620.8 953 621.66 954 622.51 955 623.36 955.4 623.7 956 624.21 957 625.08 958 625.95 959 626.84 960 627.73 961 628.63 962 629.54 963 630.45 964 631.36 965 632.28 966 633.2 967 634.11 968 635.02 969 635.93 969.3 636.2 970 636.83 971 637.75 972 638.67 973 639.59 974 640.51 975 641.44 976 642.37 977 643.29 978 644.2 979 645.11 980 646 981 646.89 982 647.76 983 648.62 983.1 648.7 984 649.46 985 650.3 986 651.14 987 651.98 988 652.81 989 653.63 990 654.44 991 655.24 992 656.03 993 656.8 994 657.55 995 658.29 996 659.01 997 659.7 998 660.38 999 661.04 1000 661.68 1001 662.31 1002 662.94 1003 663.54 1004 664.14 1005 664.73 1006 665.31 1007 665.88 1008 666.45 1009 667.01 1010 667.56 1010.8 668 1011 668.11 1012 668.66 1013 669.2 1014 669.75 1015 670.29 1016 670.82 1017 671.35 1018 671.87 1019 672.37 1020 672.87 1021 673.35 1022 673.82 1023 674.27 1024 674.71 1024.7 675 1025 675.12 1026 675.52 1027 675.91 1028 676.28 1029 676.65 1030 677 1031 677.35 1032 677.69 1033 678.02 1034 678.35 1035 678.67 1036 678.99 1037 679.32 1038 679.64 1038.5 679.8 1039 679.96 1040 680.28 1041 680.6 1042 680.92 1043 681.24 1044 681.55 1045 681.86 1046 682.16 1047 682.46 1048 682.76 1049 683.05 1050 683.34 1051 683.62 1052 683.89 1052.4 684 1053 684.16 1054 684.44 1055 684.71 1056 684.99 1057 685.26 1058 685.54 1059 685.81 1060 686.09 1061 686.36 1062 686.62 1063 686.89 1064 687.15 1065 687.4 1066 687.65 1067 687.89 1068 688.13 1069 688.36 1070 688.58 1071 688.78 1072 688.98 1073 689.17 1074 689.35 1075 689.52 1076 689.67 1076.2 689.7 1077 689.81 1078 689.95 1079 690.09 1080 690.23 1081 690.36 1082 690.49 1083 690.61 1084 690.74 1085 690.85 1086 690.97 1087 691.08 1088 691.19 1089 691.3 1090 691.4 1091 691.5 1092 691.59 1093 691.68 1094 691.77 1095 691.85 1096 691.93 1097 692.01 1098 692.08 1099 692.15 1100 692.21 1101 692.27 1101.6 692.3 1102 692.32 1103 692.37 1104 692.43 1105 692.48 1106 692.53 1107 692.57 1108 692.62 1109 692.67 1110 692.72 1111 692.76 1112 692.81 1113 692.85 1114 692.89 1115 692.93 1116 692.98 1117 693.02 1118 693.06 1119 693.09 1120 693.13 1121 693.17 1122 693.21 1123 693.24 1124 693.28 1125 693.31 1126 693.34 1127 693.38 1128 693.41 1129 693.44 1130 693.47 1131 693.5 1132 693.53 1133 693.56 1134 693.59 1135 693.61 1136 693.64 1137 693.67 1138 693.69 1139 693.72 1140 693.74 1141 693.77 1142 693.79 1143 693.81 1144 693.83 1145 693.86 1146 693.88 1147 693.9 1148 693.92 1149 693.94 1150 693.96 1151 693.97 1152 693.99 1152.4 694 1153 694.01 1154 694.03 1155 694.05 1156 694.06 1157 694.08 1158 694.1 1159 694.12 1160 694.13 1161 694.15 1162 694.17 1163 694.19 1164 694.2 1165 694.22 1166 694.24 1167 694.25 1168 694.27 1169 694.29 1170 694.3 1171 694.32 1172 694.34 1173 694.35 1174 694.37 1175 694.39 1176 694.4 1177 694.42 1178 694.44 1179 694.45 1180 694.47 1181 694.48 1182 694.5 1183 694.51 1184 694.53 1185 694.54 1186 694.56 1187 694.57 1188 694.59 1189 694.6 1190 694.62 1191 694.63 1192 694.65 1193 694.66 1194 694.67 1195 694.69 1196 694.7 1197 694.71 1198 694.73 1199 694.74 1200 694.75 1201 694.76 1202 694.78 1203 694.79 1204 694.8 1205 694.81 1206 694.82 1207 694.84 1208 694.85 1209 694.86 1210 694.87 1211 694.88 1212 694.89 1213 694.9 1214 694.91 1215 694.92 1216 694.93 1217 694.94 1218 694.95 1219 694.96 1220 694.97 1221 694.97 1222 694.98 1223 694.99 1224 695 1225 695.01 1226 695.01 1227 695.02 1228 695.03 1229 695.03 1230 695.04 1231 695.04 1232 695.05 1233 695.06 1234 695.06 1235 695.06 1236 695.07 1237 695.07 1238 695.08 1239 695.08 1240 695.08 1241 695.09 1242 695.09 1243 695.09 1244 695.09 1245 695.1 1246 695.1 1247 695.1 1248 695.1 1249 695.1 1250 695.1 L1250 695.1 L720 695.1Z" fill="rgba(223,83,199,0.5)" stroke="none"/>
<path d="M760 695.1 761 695.09 762 695.08 763 695.07 764 695.06 765 695.05 766 695.03 767 695.01 768 695 769 694.98 770 694.96 771 694.94 772 694.92 773 694.9 774 694.87 775 694.85 776 694.83 777 694.8 778 694.77 779 694.75 780 694.72 781 694.69 782 694.66 783 694.63 784 694.6 785 694.57 786 694.53 787 694.5 788 694.47 789 694.43 790 694.4 791 694.37 792 694.33 793 694.3 794 694.26 795 694.22 796 694.19 797 694.15 798 694.11 799 694.08 800 694.04 801 694 802 693.96 803 693.93 804 693.89 805 693.85 806 693.81 807 693.77 808 693.73 809 693.69 810 693.65 811 693.61 812 693.57 813 693.52 814 693.47 815 693.42 816 693.37 817 693.31 818 693.26 819 693.2 820 693.13 821 693.06 822 692.99 823 692.92 824 692.84 825 692.75 826 692.67 827 692.57 828 692.48 829 692.37 829.7 692.3 830 692.27 831 692.12 832 691.93 833 691.71 834 691.44 835 691.14 836 690.81 837 690.45 838 690.07 839 689.66 840 689.22 841 688.78 842 688.31 843 687.83 844 687.35 845 686.85 846 686.35 847 685.85 847.5 685.6 848 685.34 849 684.81 850 684.23 851 683.62 852 682.98 853 682.3 854 681.59 855 680.84 856 680.07 857 679.26 858 678.43 859 677.56 859.3 677.3 860 676.66 861 675.7 862 674.67 863 673.59 864 672.46 865 671.27 866 670.04 867 668.77 868 667.47 869 666.13 870 664.77 871 663.38 871.2 663.1 872 661.95 873 660.44 874 658.86 875 657.21 876 655.51 877 653.78 878 652.01 879 650.22 880 648.42 881 646.62 882 644.84 883 643.07 883.1 642.9 884 641.32 885 639.55 886 637.77 887 635.98 888 634.18 889 632.37 890 630.56 891 628.75 892 626.93 893 625.12 894 623.31 895 621.5 896 619.7 897 617.89 898 616.08 899 614.26 900 612.45 901 610.64 902 608.83 903 607.02 904 605.22 905 603.42 906 601.63 906.8 600.2 907 599.84 908 598.04 909 596.21 910 594.39 911 592.59 912 590.84 913 589.15 913.9 587.7 914 587.54 915 586.01 916 584.51 917 583.06 918 581.66 919 580.31 920 579.01 920.8 578 921 577.75 922 576.49 923 575.23 924 574.01 925 572.85 926 571.81 927 570.92 927.7 570.4 928 570.2 929 569.53 930 568.87 931 568.24 932 567.66 933 567.15 934 566.73 935 566.42 936 566.24 936.7 566.2 937 566.21 938 566.29 939 566.48 940 566.76 941 567.12 942 567.54 943 568.02 944 568.54 945 569.09 946 569.66 947 570.24 948 570.82 948.5 571.1 949 571.39 950 572.03 951 572.74 952 573.51 953 574.34 954 575.22 955 576.14 956 577.1 957 578.08 958 579.09 959 580.11 960 581.14 961 582.17 962 583.2 962.3 583.5 963 584.21 964 585.25 965 586.3 966 587.38 967 588.49 968 589.63 969 590.81 970 592.03 971 593.29 972 594.6 973 596 974 597.5 975 599.08 976 600.73 977 602.43 978 604.15 979 605.88 980 607.59 981 609.27 982 610.9 983 612.45 983.1 612.6 984 613.94 985 615.41 986 616.85 987 618.26 988 619.65 989 620.99 990 622.3 991 623.55 992 624.75 993 625.92 994 627.07 995 628.22 996 629.39 997 630.6 998 631.86 999 633.16 1000 634.49 1001 635.85 1002 637.22 1003 638.6 1004 639.97 1005 641.34 1006 642.7 1007 644.02 1008 645.32 1009 646.57 1010 647.78 1010.8 648.7 1011 648.93 1012 650.04 1013 651.13 1014 652.2 1015 653.24 1016 654.27 1017 655.28 1018 656.27 1019 657.24 1020 658.19 1021 659.13 1022 660.06 1023 660.97 1024 661.88 1024.7 662.5 1025 662.77 1026 663.65 1027 664.53 1028 665.41 1029 666.27 1030 667.12 1031 667.96 1032 668.79 1033 669.59 1034 670.38 1035 671.14 1036 671.88 1037 672.59 1038 673.27 1038.5 673.6 1039 673.92 1040 674.55 1041 675.16 1042 675.75 1043 676.33 1044 676.89 1045 677.44 1046 677.97 1047 678.49 1048 679.01 1049 679.51 1050 680.01 1051 680.51 1052 681 1052.4 681.2 1053 681.5 1054 682.01 1055 682.52 1056 683.05 1057 683.57 1058 684.09 1059 684.6 1060 685.1 1061 685.58 1062 686.04 1063 686.47 1064 686.87 1065 687.24 1066 687.56 1067 687.84 1067.7 688 1068 688.06 1069 688.27 1070 688.47 1071 688.66 1072 688.85 1073 689.02 1074 689.19 1075 689.35 1076 689.51 1077 689.66 1078 689.8 1079 689.93 1080 690.06 1081 690.19 1082 690.31 1083 690.42 1084 690.54 1085 690.64 1086 690.75 1087 690.85 1088 690.95 1089 691.04 1090 691.13 1091 691.22 1092 691.31 1093 691.4 1094 691.49 1095 691.57 1096 691.66 1097 691.74 1098 691.82 1099 691.91 1100 691.99 1101 692.07 1102 692.15 1103 692.22 1104 692.3 1105 692.38 1106 692.45 1107 692.52 1108 692.6 1109 692.67 1110 692.74 1111 692.8 1112 692.87 1113 692.94 1114 693 1115 693.06 1116 693.13 1117 693.19 1118 693.24 1119 693.3 1120 693.36 1121 693.41 1122 693.46 1123 693.51 1124 693.56 1125 693.61 1126 693.66 1127 693.7 1128 693.74 1129 693.78 1130 693.82 1131 693.86 1132 693.89 1133 693.93 1134 693.96 1135 693.99 1135.4 694 1136 694.02 1137 694.04 1138 694.07 1139 694.1 1140 694.13 1141 694.15 1142 694.18 1143 694.21 1144 694.23 1145 694.26 1146 694.28 1147 694.31 1148 694.34 1149 694.36 1150 694.39 1151 694.41 1152 694.43 1153 694.46 1154 694.48 1155 694.51 1156 694.53 1157 694.55 1158 694.57 1159 694.6 1160 694.62 1161 694.64 1162 694.66 1163 694.68 1164 694.7 1165 694.72 1166 694.74 1167 694.76 1168 694.78 1169 694.8 1170 694.82 1171 694.83 1172 694.85 1173 694.87 1174 694.88 1175 694.9 1176 694.91 1177 694.93 1178 694.94 1179 694.95 1180 694.97 1181 694.98 1182 694.99 1183 695 1184 695.01 1185 695.02 1186 695.03 1187 695.04 1188 695.05 1189 695.06 1190 695.07 1191 695.07 1192 695.08 1193 695.08 1194 695.09 1195 695.09 1196 695.09 1197 695.1 1198 695.1 1199 695.1 1200 695.1 L1200 695.1 L760 695.1Z" fill="rgba(223,83,199,0.5)" stroke="none"/>
<path d="M105.3 937.5 105.8 920 106.3 890 106.3 889.9 106.8 850 107.3 824.31 107.6 815 108.3 804.24 108.5 803 109.31 800.81 109.5 800.7 110.31 801.41 111.31 803.96 112.31 807.77 113.31 812.24 114.31 816.77 115.3 820.7 115.31 820.75 116.32 824.29 117.32 827.85 118.32 831.44 119.32 835.04 120.32 838.66 121.32 842.27 122.32 845.88 123 848.3 123.33 849.47 124.33 853.1 125.33 856.75 126.33 860.41 127.33 864.05 128.33 867.65 129.34 871.2 130.34 874.67 130.7 875.9 131.34 878.06 132.34 881.48 133.34 884.89 134.34 888.24 135.34 891.51 136.35 894.64 137.35 897.61 138.35 900.36 138.4 900.5 139.35 902.95 140.35 905.46 141.35 907.86 142.35 910.16 143.36 912.33 144.36 914.37 145.36 916.27 146 917.4 146.36 918.01 147.36 919.71 148.36 921.35 149.36 922.92 150.37 924.38 151.37 925.7 152.37 926.86 153.37 927.83 153.7 928.1 154.37 928.62 155.37 929.35 156.37 930.05 157.38 930.69 158.38 931.29 159.38 931.85 160.38 932.36 161.38 932.83 162.38 933.24 163.38 933.62 164.39 933.94 165.3 934.2 165.39 934.22 166.39 934.48 167.39 934.71 168.39 934.94 169.39 935.16 170.39 935.36 171.4 935.55 172.4 935.73 173.4 935.9 174.4 936.06 175.4 936.21 176.4 936.35 177.41 936.47 178.41 936.59 179.41 936.7 180.41 936.8 181.41 936.88 181.6 936.9 182.41 936.97 183.41 937.05 184.42 937.12 185.42 937.19 186.42 937.26 187.42 937.33 188.42 937.4 189.42 937.46 190.42 937.51 191.43 937.57 192.43 937.62 193.43 937.67 194.43 937.71 195.43 937.75 196.43 937.79 197.43 937.83 198.44 937.86 199.44 937.89 200 937.9 200.44 937.91 201.44 937.93 202.44 937.96 203.44 937.98 204.44 938 205.45 938.03 206.45 938.05 207.45 938.07 208.45 938.09 209.45 938.11 210.45 938.13 211.45 938.15 212.46 938.17 213.46 938.19 214.46 938.21 215.46 938.23 216.46 938.25 217.46 938.27 218.46 938.29 219.47 938.31 220.47 938.32 221.47 938.34 222.47 938.36 223.47 938.37 224.47 938.39 225.48 938.41 226.48 938.42 227.48 938.44 228.48 938.45 229.48 938.47 230.48 938.48 231.48 938.49 232.49 938.51 233.49 938.52 234.49 938.53 235.49 938.54 236.49 938.55 237.49 938.57 238.49 938.58 239.5 938.59 240.5 938.6 241.5 938.61 242.5 938.61 243.5 938.62 244.5 938.63 245.5 938.64 246.51 938.65 247.51 938.65 248.51 938.66 249.51 938.66 250.51 938.67 251.51 938.68 252.51 938.68 253.52 938.68 254.52 938.69 255.52 938.69 256.52 938.69 257.52 938.7 258.52 938.7 259.52 938.7 260 938.7 260.53 938.7 261.53 938.7 262.53 938.7 263.53 938.7 264.53 938.7 265.53 938.71 266.54 938.71 267.54 938.71 268.54 938.71 269.54 938.71 270.54 938.71 271.54 938.71 272.54 938.71 273.55 938.71 274.55 938.71 275.55 938.71 276.55 938.71 277.55 938.72 278.55 938.72 279.55 938.72 280.56 938.72 281.56 938.72 282.56 938.72 283.56 938.72 284.56 938.72 285.56 938.72 286.56 938.72 287.57 938.72 288.57 938.72 289.57 938.73 290.57 938.73 291.57 938.73 292.57 938.73 293.57 938.73 294.58 938.73 295.58 938.73 296.58 938.73 297.58 938.73 298.58 938.73 299.58 938.73 300.58 938.73 301.59 938.73 302.59 938.74 303.59 938.74 304.59 938.74 305.59 938.74 306.59 938.74 307.59 938.74 308.6 938.74 309.6 938.74 310.6 938.74 311.6 938.74 312.6 938.74 313.6 938.74 314.61 938.74 315.61 938.74 316.61 938.74 317.61 938.75 318.61 938.75 319.61 938.75 320.61 938.75 321.62 938.75 322.62 938.75 323.62 938.75 324.62 938.75 325.62 938.75 326.62 938.75 327.62 938.75 328.63 938.75 329.63 938.75 330.63 938.75 331.63 938.75 332.63 938.75 333.63 938.76 334.63 938.76 335.64 938.76 336.64 938.76 337.64 938.76 338.64 938.76 339.64 938.76 340.64 938.76 341.64 938.76 342.65 938.76 343.65 938.76 344.65 938.76 345.65 938.76 346.65 938.76 347.65 938.76 348.65 938.76 349.66 938.76 350.66 938.76 351.66 938.76 352.66 938.77 353.66 938.77 354.66 938.77 355.66 938.77 356.67 938.77 357.67 938.77 358.67 938.77 359.67 938.77 360.67 938.77 361.67 938.77 362.68 938.77 363.68 938.77 364.68 938.77 365.68 938.77 366.68 938.77 367.68 938.77 368.68 938.77 369.69 938.77 370.69 938.77 371.69 938.77 372.69 938.77 373.69 938.77 374.69 938.78 375.69 938.78 376.7 938.78 377.7 938.78 378.7 938.78 379.7 938.78 380.7 938.78 381.7 938.78 382.7 938.78 383.71 938.78 384.71 938.78 385.71 938.78 386.71 938.78 387.71 938.78 388.71 938.78 389.71 938.78 390.72 938.78 391.72 938.78 392.72 938.78 393.72 938.78 394.72 938.78 395.72 938.78 396.72 938.78 397.73 938.78 398.73 938.78 399.73 938.78 400.73 938.78 401.73 938.78 402.73 938.78 403.74 938.79 404.74 938.79 405.74 938.79 406.74 938.79 407.74 938.79 408.74 938.79 409.74 938.79 410.75 938.79 411.75 938.79 412.75 938.79 413.75 938.79 414.75 938.79 415.75 938.79 416.75 938.79 417.76 938.79 418.76 938.79 419.76 938.79 420.76 938.79 421.76 938.79 422.76 938.79 423.76 938.79 424.77 938.79 425.77 938.79 426.77 938.79 427.77 938.79 428.77 938.79 429.77 938.79 430.77 938.79 431.78 938.79 432.78 938.79 433.78 938.79 434.78 938.79 435.78 938.79 436.78 938.79 437.78 938.79 438.79 938.79 439.79 938.79 440.79 938.79 441.79 938.79 442.79 938.79 443.79 938.79 444.79 938.79 445.8 938.79 446.8 938.79 447.8 938.79 448.8 938.8 449.8 938.8 450.8 938.8 451.81 938.8 452.81 938.8 453.81 938.8 454.81 938.8 455.81 938.8 456.81 938.8 457.81 938.8 458.82 938.8 459.82 938.8 460.82 938.8 461.82 938.8 462.82 938.8 463.82 938.8 464.82 938.8 465.83 938.8 466.83 938.8 467.83 938.8 468.83 938.8 469.83 938.8 470.83 938.8 471.83 938.8 472.84 938.8 473.84 938.8 474.84 938.8 475.84 938.8 476.84 938.8 477.84 938.8 478.84 938.8 479.85 938.8 480.85 938.8 481.85 938.8 482.85 938.8 483.85 938.8 484.85 938.8 485.85 938.8 486.86 938.8 487.86 938.8 488.86 938.8 489.86 938.8 490.86 938.8 491.86 938.8 492.86 938.8 493.87 938.8 494.87 938.8 495.87 938.8 496.87 938.8 497.87 938.8 498.87 938.8 499.88 938.8 500.88 938.8 501.88 938.8 502.88 938.8 503.88 938.8 504.88 938.8 505.88 938.8 506.89 938.8 507.89 938.8 508.89 938.8 509.89 938.8 510.89 938.8 511.89 938.8 512.89 938.8 513.9 938.8 514.9 938.8 515.9 938.8 516.9 938.8 L516.9 938.8 L105.3 938.8Z" fill="rgba(81,81,235,0.5)" stroke="none"/>
<path d="M690 938.8 691 938.8 692 938.8 693 938.79 694 938.79 695 938.78 696 938.77 697 938.76 698 938.75 699 938.74 700 938.73 701 938.71 702 938.7 703 938.68 704 938.66 705 938.64 706 938.62 707 938.6 708 938.58 709 938.55 710 938.53 711 938.5 712 938.47 713 938.44 714 938.41 715 938.38 716 938.35 717 938.32 718 938.28 719 938.25 720 938.21 721 938.18 722 938.14 723 938.1 724 938.06 725 938.02 726 937.98 727 937.93 728 937.89 729 937.85 730 937.8 731 937.74 732 937.67 733 937.58 734 937.48 735 937.37 736 937.26 737 937.14 738 937.02 739 936.91 739.1 936.9 740 936.81 741 936.71 742 936.61 743 936.51 744 936.39 745 936.25 746 936.08 746.4 936 747 935.85 748 935.49 749 935.01 750 934.45 751 933.84 752 933.22 752.7 932.8 753 932.62 754 931.99 755 931.31 756 930.59 757 929.84 757.3 929.6 758 929.04 759 928.2 760 927.31 761 926.34 761.8 925.5 762 925.28 763 924.08 764 922.76 765 921.33 766 919.82 766.4 919.2 767 918.23 768 916.48 769 914.63 770 912.72 770.9 911 771 910.81 772 908.92 773 907.01 774 905.04 775 902.98 775.5 901.9 776 900.77 777 898.36 778 895.83 779 893.3 780 890.9 781 888.65 782 886.48 783 884.35 784 882.21 784.6 880.9 785 880.01 786 877.76 787 875.5 788 873.26 789 871.11 789.1 870.9 790 869.03 791 867 792 865.05 792.8 863.6 793 863.23 794 861.16 795 859.56 795.5 859.3 796 859.35 797 859.7 798 860.26 799 860.91 800 861.5 801 862 802 862.48 803 863.01 804 863.63 804.5 864 805 864.44 806 865.55 807 866.9 808 868.37 809 869.85 809.1 870 810 871.35 811 872.94 812 874.59 813 876.28 813.6 877.3 814 877.98 815 879.68 816 881.41 817 883.21 818 885.11 818.2 885.5 819 887.16 820 889.4 821 891.71 822 893.99 822.7 895.5 823 896.13 824 898.2 825 900.23 826 902.19 827 904.06 827.3 904.6 828 905.82 829 907.47 830 909.06 831 910.63 831.8 911.9 832 912.22 833 913.84 834 915.46 835 917.05 836 918.6 836.4 919.2 837 920.1 838 921.58 839 923.03 840 924.39 840.9 925.5 841 925.62 842 926.76 843 927.83 844 928.83 845 929.71 845.5 930.1 846 930.47 847 931.14 848 931.75 849 932.3 850 932.8 851 933.26 852 933.69 853 934.08 854 934.42 854.6 934.6 855 934.71 856 934.96 857 935.19 858 935.41 859 935.61 860 935.8 861 935.97 862 936.14 863 936.29 863.7 936.4 864 936.45 865 936.6 866 936.74 867 936.89 868 937.02 869 937.15 870 937.26 871 937.36 872 937.45 872.8 937.5 873 937.51 874 937.57 875 937.62 876 937.67 877 937.72 878 937.77 879 937.82 880 937.86 881 937.9 882 937.94 883 937.98 884 938.02 885 938.05 886 938.09 887 938.12 888 938.15 889 938.18 890 938.2 891 938.23 892 938.25 893 938.28 894 938.3 895 938.32 896 938.34 897 938.35 898 938.37 899 938.39 900 938.4 901 938.41 902 938.43 903 938.44 904 938.45 905 938.47 906 938.48 907 938.49 908 938.5 909 938.52 910 938.53 911 938.54 912 938.55 913 938.56 914 938.58 915 938.59 916 938.6 917 938.61 918 938.62 919 938.63 920 938.64 921 938.65 922 938.66 923 938.67 924 938.68 925 938.69 926 938.69 927 938.7 928 938.71 929 938.72 930 938.73 931 938.73 932 938.74 933 938.75 934 938.75 935 938.76 936 938.76 937 938.77 938 938.77 939 938.78 940 938.78 941 938.78 942 938.79 943 938.79 944 938.79 945 938.79 946 938.8 947 938.8 948 938.8 949 938.8 950 938.8 L950 938.8 L690 938.8Z" fill="rgba(81,81,235,0.5)" stroke="none"/>
<path d="M740 938.8 741 938.8 742 938.8 743 938.8 744 938.8 745 938.79 746 938.79 747 938.78 748 938.78 749 938.77 750 938.77 751 938.76 752 938.75 753 938.75 754 938.74 755 938.73 756 938.72 757 938.71 758 938.7 759 938.68 760 938.67 761 938.66 762 938.64 763 938.63 764 938.61 765 938.59 766 938.58 767 938.56 768 938.54 769 938.52 770 938.5 771 938.47 772 938.43 773 938.38 774 938.31 775 938.23 776 938.13 777 938.02 778 937.89 779 937.75 780 937.58 781 937.4 782 937.07 783 936.5 784 935.77 785 934.93 786 934.05 786.4 933.7 787 933.17 788 932.21 789 931.16 790 929.97 791 928.64 791.9 927.3 792 927.14 793 925.2 794 922.86 795 920.39 795.5 919.2 796 918.04 797 915.7 798 913.33 799 910.92 800 908.45 800.1 908.2 801 905.91 802 903.28 803 900.62 804 897.97 804.6 896.4 805 895.37 806 892.86 807 890.37 808 887.83 809 885.16 809.2 884.6 810 882.2 811 879.03 811.9 876.4 812 876.13 813 873.54 814 871.2 814.6 870 815 869.27 816 867.49 817 865.95 818 864.83 818.3 864.6 819 864.14 820 863.67 820.5 863.6 821 863.62 822 863.74 823 863.95 824 864.25 825 864.6 826 864.99 827 865.38 827.3 865.5 828 865.8 829 866.3 830 866.9 831 867.59 831.8 868.2 832 868.36 833 869.32 834 870.46 835 871.74 836 873.13 836.4 873.7 837 874.61 838 876.31 839 878.16 840 880.08 840.9 881.8 841 881.99 842 883.96 843 886 844 888.04 845 889.98 845.5 890.9 846 891.78 847 893.48 848 895.11 849 896.68 850 898.2 851 899.65 852 901.04 853 902.4 854 903.77 854.6 904.6 855 905.17 856 906.62 857 908.09 858 909.52 859 910.87 859.1 911 860 912.15 861 913.4 862 914.59 863 915.69 863.7 916.4 864 916.69 865 917.6 866 918.45 867 919.24 868 919.96 868.2 920.1 869 920.61 870 921.18 871 921.73 872 922.29 872.8 922.8 873 922.94 874 923.71 875 924.55 876 925.4 877 926.19 877.3 926.4 878 926.87 879 927.52 880 928.13 881 928.7 881.9 929.2 882 929.25 883 929.81 884 930.35 885 930.85 886 931.27 886.4 931.4 887 931.58 888 931.84 889 932.08 890 932.28 891 932.48 892 932.66 893 932.83 894 933.01 895 933.2 895.5 933.3 896 933.4 897 933.6 898 933.8 899 934 900 934.2 901 934.39 902 934.59 903 934.78 904 934.98 904.6 935.1 905 935.18 906 935.38 907 935.59 908 935.8 909 936.01 910 936.21 911 936.41 912 936.6 913 936.78 913.7 936.9 914 936.95 915 937.12 916 937.3 917 937.46 918 937.61 919 937.72 920 937.8 921 937.85 922 937.9 923 937.95 924 937.99 925 938.04 926 938.08 927 938.12 928 938.15 929 938.19 930 938.22 931 938.25 932 938.28 933 938.31 934 938.34 935 938.37 936 938.39 937 938.41 938 938.43 939 938.45 940 938.47 941 938.49 942 938.5 943 938.52 944 938.53 945 938.55 946 938.56 947 938.57 948 938.58 949 938.59 950 938.6 951 938.61 952 938.62 953 938.63 954 938.63 955 938.64 956 938.65 957 938.66 958 938.67 959 938.67 960 938.68 961 938.69 962 938.69 963 938.7 964 938.71 965 938.71 966 938.72 967 938.73 968 938.73 969 938.74 970 938.74 971 938.75 972 938.75 973 938.76 974 938.76 975 938.77 976 938.77 977 938.78 978 938.78 979 938.78 980 938.79 981 938.79 982 938.79 983 938.79 984 938.79 985 938.8 986 938.8 987 938.8 988 938.8 989 938.8 990 938.8 L990 938.8 L740 938.8Z" fill="rgba(81,81,235,0.5)" stroke="none"/>
<g fill="none" stroke="#000" stroke-width="2.1" stroke-linejoin="round"><path d="M690 207.7 691 207.7 692 207.7 693 207.7 694 207.7 695 207.7 696 207.7 697 207.7 698 207.7 699 207.7 700 207.7 701 207.7 702 207.7 703 207.69 704 207.69 705 207.69 706 207.69 707 207.69 708 207.69 709 207.69 710 207.69 711 207.69 712 207.68 713 207.68 714 207.68 715 207.68 716 207.68 717 207.67 718 207.67 719 207.67 720 207.67 721 207.67 722 207.66 723 207.66 724 207.66 725 207.66 726 207.65 727 207.65 728 207.65 729 207.64 730 207.64 731 207.64 732 207.63 733 207.63 734 207.63 735 207.62 736 207.62 737 207.61 738 207.61 739 207.6 740 207.6 741 207.59 742 207.58 743 207.56 744 207.53 745 207.51 746 207.47 747 207.43 748 207.39 749 207.34 750 207.29 751 207.24 752 207.18 753 207.12 754 207.06 755 207 756 206.93 757 206.85 758 206.75 759 206.64 760 206.52 761 206.37 762 206.21 763 206.02 763.1 206 764 205.77 765 205.42 766 204.97 767 204.45 768 203.87 769 203.24 770 202.57 770.7 202.1 771 201.89 772 201.14 773 200.3 774 199.37 775 198.32 776 197.15 776.9 196 777 195.86 778 194.31 779 192.45 780 190.33 781 188.01 781.5 186.8 782 185.51 783 182.57 784 179.31 784.5 177.6 785 175.81 786 171.93 787 167.81 787.6 165.3 788 163.62 789 159.33 790 154.86 790.7 151.6 791 150.15 792 145.05 793 139.8 793.7 136.2 794 134.7 795 129.77 796 124.87 796.8 120.9 797 119.89 798 114.8 799 109.66 799.8 105.6 800 104.59 801 99.45 802 94.4 802.9 90.2 803 89.76 804 85.42 805 81.39 806 78 807 75.16 808 72.6 809 70.32 810 68.34 810.6 67.3 811 66.63 812 64.9 813 63.27 814 61.96 815 61.21 815.5 61.1 816 61.17 817 61.7 818 62.65 819 63.9 820 65.34 821 66.85 821.3 67.3 822 68.45 823 70.43 824 72.77 825 75.41 825.9 78 826 78.3 827 81.76 828 85.81 829 90.2 830 95.11 831 100.48 832 105.6 833 110.2 834 114.58 835 118.96 835.1 119.4 836 123.39 837 127.82 838 132.3 838.2 133.2 839 136.86 840 141.5 841 146.1 841.2 147 842 150.61 843 155.09 844 159.43 844.3 160.7 845 163.66 846 167.83 847 171.64 847.4 173 848 174.89 849 177.8 850 180.47 851 182.96 852 185.3 853 187.57 854 189.75 855 191.77 856 193.56 856.6 194.5 857 195.08 858 196.44 859 197.7 860 198.85 861 199.89 862 200.81 862.7 201.4 863 201.64 864 202.43 865 203.19 866 203.91 867 204.56 868 205.13 869 205.59 870 205.93 870.3 206 871 206.15 872 206.36 873 206.55 874 206.72 875 206.87 876 207 877 207.11 878 207.19 879 207.26 880 207.3 881 207.33 882 207.36 883 207.38 884 207.4 885 207.43 886 207.45 887 207.47 888 207.48 889 207.5 890 207.51 891 207.53 892 207.54 893 207.55 894 207.56 895 207.57 896 207.58 897 207.58 898 207.59 899 207.6 900 207.6 901 207.6 902 207.61 903 207.61 904 207.62 905 207.62 906 207.63 907 207.63 908 207.63 909 207.64 910 207.64 911 207.65 912 207.65 913 207.65 914 207.66 915 207.66 916 207.66 917 207.66 918 207.67 919 207.67 920 207.67 921 207.68 922 207.68 923 207.68 924 207.68 925 207.68 926 207.69 927 207.69 928 207.69 929 207.69 930 207.69 931 207.69 932 207.7 933 207.7 934 207.7 935 207.7 936 207.7 937 207.7 938 207.7 939 207.7 940 207.7"/>
<path d="M105.3 446.9 106.3 446.37 107.3 445.83 108.3 445.31 109.31 444.78 110.31 444.25 111.31 443.73 112.31 443.21 113.31 442.69 114.31 442.17 115.31 441.65 115.8 441.4 116.32 441.14 117.32 440.64 118.32 440.16 119.32 439.68 120.32 439.19 121.32 438.69 122.32 438.17 123.33 437.62 123.7 437.4 124.33 437.03 125.33 436.4 126.33 435.75 127.33 435.07 128.33 434.36 129.34 433.63 130.34 432.88 131.34 432.11 131.6 431.9 132.34 431.31 133.34 430.47 134.34 429.6 135.34 428.7 136.35 427.77 137.35 426.84 138.35 425.89 139.35 424.94 139.6 424.7 140.35 423.99 141.35 423.03 142.35 422.06 143.36 421.08 144.36 420.09 145.36 419.07 146.36 418.02 147.36 416.95 147.5 416.8 148.36 415.85 149.36 414.71 150.37 413.54 151.37 412.35 152.37 411.13 153.37 409.88 154.37 408.62 155.37 407.33 155.4 407.3 156.37 406.03 157.38 404.68 158.38 403.31 159.38 401.91 160.38 400.5 161.38 399.07 162.38 397.63 163.3 396.3 163.38 396.18 164.39 394.71 165.39 393.22 166.39 391.71 167.39 390.19 168.39 388.67 169.39 387.14 170.39 385.62 171.2 384.4 171.4 384.1 172.4 382.6 173.4 381.11 174.4 379.61 175.4 378.12 176.4 376.61 177.41 375.1 178.41 373.57 179.1 372.5 179.41 372.02 180.41 370.46 181.41 368.89 182.41 367.31 183.41 365.72 184.42 364.11 185.42 362.49 186.42 360.86 187 359.9 187.42 359.2 188.42 357.53 189.42 355.83 190.42 354.11 191.43 352.38 192.43 350.65 193.43 348.92 194.43 347.2 194.9 346.4 195.43 345.49 196.43 343.78 197.43 342.06 198.44 340.35 199.44 338.64 200.44 336.94 201.44 335.25 202.44 333.59 202.8 333 203.44 331.93 204.44 330.24 205.45 328.53 206.45 326.83 207.45 325.17 208.45 323.58 209.45 322.09 210.45 320.74 210.8 320.3 211.45 319.5 212.46 318.3 213.46 317.13 214.46 316.02 215.46 314.99 216.46 314.06 217.46 313.23 218.46 312.54 218.7 312.4 219.47 311.95 220.47 311.37 221.47 310.8 222.47 310.27 223.47 309.78 224.47 309.36 225.48 309.02 226.48 308.77 227.48 308.63 228.1 308.6 228.48 308.6 229.48 308.63 230.48 308.69 231.48 308.78 232.49 308.89 233.49 309.03 234.49 309.2 235.49 309.39 236.49 309.6 237.49 309.83 238.49 310.07 239.5 310.34 240.5 310.62 241.5 310.91 242.5 311.22 243.5 311.54 243.7 311.6 244.5 311.9 245.5 312.39 246.51 312.99 247.51 313.69 248.51 314.47 249.51 315.31 250.51 316.2 251.51 317.12 251.6 317.2 252.51 318.12 253.52 319.28 254.52 320.57 255.52 321.96 256.52 323.43 257.52 324.95 258.52 326.51 259.52 328.08 259.6 328.2 260.53 329.69 261.53 331.39 262.53 333.15 263.53 334.98 264.53 336.85 265.53 338.75 266.54 340.66 267.5 342.5 267.54 342.57 268.54 344.5 269.54 346.47 270.54 348.47 271.54 350.49 272.54 352.52 273.55 354.56 274.55 356.59 275.4 358.3 275.55 358.6 276.55 360.63 277.55 362.69 278.55 364.77 279.55 366.83 280.56 368.87 281.56 370.84 282.56 372.75 283.3 374.1 283.56 374.56 284.56 376.3 285.56 377.99 286.56 379.64 287.57 381.24 288.57 382.8 289.57 384.34 290.57 385.86 291.2 386.8 291.57 387.35 292.57 388.8 293.57 390.22 294.58 391.61 295.58 392.98 296.58 394.34 297.58 395.7 298.58 397.08 299.1 397.8 299.58 398.48 300.58 399.88 301.59 401.29 302.59 402.69 303.59 404.1 304.59 405.51 305.59 406.92 306.59 408.33 307 408.9 307.59 409.74 308.6 411.17 309.6 412.61 310.6 414.05 311.6 415.49 312.6 416.9 313.6 418.28 314.61 419.62 314.9 420 315.61 420.91 316.61 422.2 317.61 423.48 318.61 424.73 319.61 425.94 320.61 427.12 321.62 428.24 322.62 429.31 322.8 429.5 323.62 430.33 324.62 431.31 325.62 432.27 326.62 433.19 327.62 434.08 328.63 434.92 329.63 435.72 330.63 436.48 330.8 436.6 331.63 437.19 332.63 437.88 333.63 438.54 334.63 439.17 335.64 439.77 336.64 440.34 337.64 440.87 338.64 441.37 338.7 441.4 339.64 441.84 340.64 442.29 341.64 442.71 342.65 443.12 343.65 443.5 344.65 443.86 345.65 444.2 346.6 444.5 346.65 444.52 347.65 444.82 348.65 445.11 349.66 445.4 350.66 445.67 351.66 445.94 352.66 446.2 353.66 446.45 354.66 446.68 355.66 446.9 356.67 447.11 357.67 447.31 358.67 447.49 359.67 447.65 360 447.7 360.67 447.8 361.67 447.95 362.68 448.09 363.68 448.23 364.68 448.36 365.68 448.49 366.68 448.62 367.68 448.74 368.68 448.86 369.69 448.97 370.69 449.08 371.69 449.18 372.69 449.28 373.69 449.37 374.69 449.46 375.69 449.54 376.7 449.61 377.7 449.67 378.7 449.73 379.7 449.79 380 449.8 380.7 449.83 381.7 449.88 382.7 449.92 383.71 449.97 384.71 450.01 385.71 450.05 386.71 450.09 387.71 450.13 388.71 450.17 389.71 450.2 390.72 450.24 391.72 450.27 392.72 450.31 393.72 450.34 394.72 450.37 395.72 450.4 396.72 450.43 397.73 450.46 398.73 450.49 399.73 450.52 400.73 450.55 401.73 450.57 402.73 450.6 403.74 450.62 404.74 450.64 405.74 450.67 406.74 450.69 407.74 450.71 408.74 450.73 409.74 450.75 410.75 450.77 411.75 450.78 412.75 450.8 413.75 450.82 414.75 450.83 415.75 450.85 416.75 450.86 417.76 450.87 418.76 450.89 419.76 450.9 420 450.9 420.76 450.91 421.76 450.92 422.76 450.93 423.76 450.94 424.77 450.95 425.77 450.96 426.77 450.97 427.77 450.98 428.77 450.99 429.77 451 430.77 451.01 431.78 451.03 432.78 451.04 433.78 451.05 434.78 451.06 435.78 451.07 436.78 451.07 437.78 451.08 438.79 451.09 439.79 451.1 440.79 451.11 441.79 451.12 442.79 451.13 443.79 451.14 444.79 451.15 445.8 451.16 446.8 451.17 447.8 451.18 448.8 451.19 449.8 451.19 450.8 451.2 451.81 451.21 452.81 451.22 453.81 451.23 454.81 451.23 455.81 451.24 456.81 451.25 457.81 451.26 458.82 451.27 459.82 451.27 460.82 451.28 461.82 451.29 462.82 451.3 463.82 451.3 464.82 451.31 465.83 451.32 466.83 451.32 467.83 451.33 468.83 451.34 469.83 451.34 470.83 451.35 471.83 451.36 472.84 451.36 473.84 451.37 474.84 451.37 475.84 451.38 476.84 451.38 477.84 451.39 478.84 451.4 479.85 451.4 480.85 451.41 481.85 451.41 482.85 451.42 483.85 451.42 484.85 451.43 485.85 451.43 486.86 451.43 487.86 451.44 488.86 451.44 489.86 451.45 490.86 451.45 491.86 451.45 492.86 451.46 493.87 451.46 494.87 451.46 495.87 451.47 496.87 451.47 497.87 451.47 498.87 451.48 499.88 451.48 500.88 451.48 501.88 451.48 502.88 451.49 503.88 451.49 504.88 451.49 505.88 451.49 506.89 451.49 507.89 451.49 508.89 451.5 509.89 451.5 510.89 451.5 511.89 451.5 512.89 451.5 513.9 451.5 514.9 451.5 515.9 451.5 516.9 451.5"/>
<path d="M700 451.5 701 451.5 702 451.5 703 451.5 704 451.5 705 451.49 706 451.49 707 451.49 708 451.49 709 451.48 710 451.48 711 451.47 712 451.47 713 451.46 714 451.45 715 451.45 716 451.44 717 451.43 718 451.42 719 451.41 720 451.4 721 451.39 722 451.38 723 451.37 724 451.36 725 451.35 726 451.33 727 451.32 728 451.3 729 451.29 730 451.27 731 451.26 732 451.24 733 451.22 734 451.2 735 451.19 736 451.17 737 451.15 738 451.12 739 451.1 740 451.08 741 451.06 742 451.03 743 451.01 743.4 451 744 450.98 745 450.93 746 450.86 747 450.77 748 450.66 749 450.53 750 450.38 751 450.22 752 450.03 753 449.83 754 449.61 755 449.38 756 449.13 757 448.87 758 448.59 759 448.3 760 448 761 447.62 762 447.1 763 446.47 764 445.74 765 444.93 766 444.06 767 443.15 768 442.22 769 441.29 769.2 441.1 770 440.35 771 439.38 772 438.35 773 437.24 774 436.05 775 434.75 776 433.31 776.9 431.9 777 431.73 778 429.77 779 427.39 780 424.73 781 421.95 782 419.19 783 416.6 784 414.17 785 411.76 786 409.38 787 407 788 404.63 789 402.26 790 399.88 790.7 398.2 791 397.48 792 395.07 793 392.64 794 390.22 795 387.79 796 385.37 797 382.94 798 380.52 798.3 379.8 799 378.11 800 375.67 801 373.23 802 370.79 803 368.37 804 365.97 805 363.61 806 361.3 807 359.02 808 356.77 809 354.54 810 352.34 811 350.17 812 348.03 813 345.94 813.7 344.5 814 343.89 815 341.87 816 339.89 817 337.93 818 336.01 819 334.12 820 332.26 821 330.44 821.3 329.9 822 328.63 823 326.79 824 324.95 825 323.15 826 321.4 827 319.76 828 318.25 829 316.9 830 315.67 831 314.49 832 313.37 833 312.32 834 311.35 835 310.47 836 309.69 836.7 309.2 837 309 838 308.33 839 307.66 840 307.01 841 306.41 842 305.89 843 305.47 844 305.17 845 305.01 845.4 305 846 305.06 847 305.39 848 305.93 849 306.57 849.5 306.9 850 307.28 851 308.28 852 309.54 853 310.94 854 312.4 855 313.79 855.8 314.8 856 315.03 857 316.17 858 317.25 859 318.31 860 319.36 861 320.42 862 321.52 863 322.66 863.7 323.5 864 323.87 865 325.14 866 326.46 867 327.82 868 329.22 869 330.64 870 332.09 871 333.56 871.7 334.6 872 335.05 873 336.55 874 338.09 875 339.66 876 341.25 877 342.87 878 344.52 879 346.19 879.6 347.2 880 347.88 881 349.61 882 351.37 883 353.15 884 354.97 885 356.81 886 358.67 887 360.55 887.5 361.5 888 362.46 889 364.45 890 366.5 891 368.58 892 370.66 893 372.7 894 374.69 895 376.58 895.4 377.3 896 378.35 897 380.05 898 381.69 899 383.28 900 384.84 901 386.39 902 387.95 903 389.52 903.3 390 904 391.12 905 392.73 906 394.34 907 395.95 908 397.55 909 399.15 910 400.73 911 402.29 911.2 402.6 912 403.86 913 405.48 914 407.11 915 408.73 916 410.3 917 411.79 918 413.16 919 414.39 919.1 414.5 920 415.47 921 416.48 922 417.41 923 418.29 924 419.13 925 419.95 926 420.77 927 421.6 928 422.43 929 423.25 930 424.05 931 424.84 932 425.62 933 426.39 934 427.15 935 427.9 936 428.64 937 429.38 938 430.11 939 430.83 940 431.54 941 432.23 942 432.91 942.9 433.5 943 433.56 944 434.22 945 434.88 946 435.54 947 436.17 948 436.77 949 437.34 950 437.84 950.8 438.2 951 438.28 952 438.68 953 439.06 954 439.42 955 439.76 956 440.08 957 440.39 958 440.69 959 440.97 960 441.25 961 441.52 962 441.78 963 442.05 964 442.31 965 442.57 966 442.84 966.6 443 967 443.11 968 443.38 969 443.66 970 443.93 971 444.21 972 444.48 973 444.75 974 445.01 975 445.27 976 445.52 977 445.76 978 446 979 446.22 980 446.44 981 446.64 982 446.83 982.4 446.9 983 447.01 984 447.18 985 447.35 986 447.52 987 447.69 988 447.85 989 448.01 990 448.16 991 448.31 992 448.45 993 448.58 994 448.71 995 448.83 996 448.94 997 449.05 998 449.14 999 449.23 1000 449.3 1001 449.37 1002 449.44 1003 449.5 1004 449.57 1005 449.63 1006 449.69 1007 449.75 1008 449.81 1009 449.87 1010 449.93 1011 449.99 1012 450.04 1013 450.09 1014 450.14 1015 450.19 1016 450.24 1017 450.29 1018 450.34 1019 450.38 1020 450.42 1021 450.47 1022 450.51 1023 450.55 1024 450.58 1025 450.62 1026 450.66 1027 450.69 1028 450.72 1029 450.75 1030 450.78 1031 450.81 1032 450.84 1033 450.86 1034 450.89 1035 450.91 1036 450.93 1037 450.95 1038 450.97 1039 450.98 1040 451 1041 451.01 1042 451.03 1043 451.04 1044 451.06 1045 451.07 1046 451.08 1047 451.1 1048 451.11 1049 451.13 1050 451.14 1051 451.15 1052 451.16 1053 451.18 1054 451.19 1055 451.2 1056 451.21 1057 451.23 1058 451.24 1059 451.25 1060 451.26 1061 451.27 1062 451.28 1063 451.29 1064 451.3 1065 451.31 1066 451.32 1067 451.33 1068 451.34 1069 451.35 1070 451.36 1071 451.37 1072 451.38 1073 451.38 1074 451.39 1075 451.4 1076 451.41 1077 451.42 1078 451.42 1079 451.43 1080 451.44 1081 451.44 1082 451.45 1083 451.45 1084 451.46 1085 451.46 1086 451.47 1087 451.47 1088 451.48 1089 451.48 1090 451.48 1091 451.49 1092 451.49 1093 451.49 1094 451.49 1095 451.5 1096 451.5 1097 451.5 1098 451.5 1099 451.5 1100 451.5"/>
<path d="M800 451.5 801 451.5 802 451.5 803 451.5 804 451.49 805 451.49 806 451.49 807 451.48 808 451.47 809 451.47 810 451.46 811 451.45 812 451.44 813 451.44 814 451.43 815 451.42 816 451.4 817 451.39 818 451.38 819 451.37 820 451.35 821 451.34 822 451.33 823 451.31 824 451.3 825 451.28 826 451.27 827 451.25 828 451.23 829 451.22 830 451.2 831 451.18 832 451.16 833 451.14 834 451.12 835 451.11 836 451.09 837 451.07 838 451.05 839 451.03 840 451.01 841 450.99 842 450.97 843 450.95 844 450.93 845 450.9 846 450.88 847 450.86 848 450.84 849 450.82 850 450.8 851 450.78 852 450.76 853 450.73 854 450.71 855 450.68 856 450.66 857 450.63 858 450.6 859 450.57 860 450.54 861 450.51 862 450.48 863 450.44 864 450.41 865 450.37 866 450.34 867 450.3 868 450.26 869 450.22 870 450.18 871 450.13 872 450.09 873 450.05 874 450 875 449.95 876 449.91 877 449.86 878 449.81 879 449.75 880 449.7 881 449.64 882 449.58 883 449.52 884 449.45 885 449.38 886 449.31 887 449.23 888 449.15 889 449.06 890 448.98 891 448.88 892 448.79 893 448.69 894 448.59 895 448.49 896 448.38 897 448.28 898 448.17 899 448.05 900 447.94 901 447.82 902 447.7 903 447.58 904 447.45 905 447.33 906 447.2 907 447.07 908 446.94 909 446.81 910 446.68 911 446.54 912 446.41 913 446.27 914 446.13 915 445.99 916 445.85 917 445.71 918 445.57 919 445.43 920 445.29 920.6 445.2 921 445.14 922 445 923 444.85 924 444.7 925 444.54 926 444.38 927 444.22 928 444.05 929 443.89 930 443.71 931 443.54 932 443.36 933 443.18 934 442.99 935 442.8 936 442.61 937 442.42 938 442.22 939 442.01 940 441.81 941 441.6 942 441.39 943 441.17 944 440.95 945 440.73 946 440.51 947 440.28 948 440.04 949 439.81 950 439.57 951 439.32 951.1 439.3 952 439.08 953 438.82 954 438.55 955 438.28 956 438 957 437.71 958 437.41 959 437.11 960 436.79 961 436.48 962 436.16 963 435.83 964 435.49 965 435.16 966 434.81 967 434.46 968 434.11 969 433.76 970 433.4 971 433.04 972 432.67 973 432.31 974 431.94 975 431.57 976 431.2 977 430.82 978 430.45 979 430.07 980 429.7 981 429.32 981.6 429.1 982 428.95 983 428.57 984 428.18 985 427.78 986 427.37 987 426.96 988 426.54 989 426.11 990 425.68 991 425.24 992 424.8 993 424.36 994 423.91 995 423.46 996 423.01 997 422.56 998 422.1 999 421.65 1000 421.2 1001 420.74 1002 420.29 1003 419.85 1004 419.4 1005 418.96 1006 418.52 1007 418.09 1008 417.66 1009 417.24 1010 416.82 1011 416.41 1012 416.01 1013 415.61 1014 415.23 1015 414.85 1015.4 414.7 1016 414.48 1017 414.12 1018 413.76 1019 413.4 1020 413.05 1021 412.7 1022 412.36 1023 412.01 1024 411.68 1025 411.34 1026 411.01 1027 410.68 1028 410.35 1029 410.03 1030 409.71 1031 409.39 1032 409.07 1033 408.75 1034 408.43 1035 408.12 1036 407.81 1037 407.5 1038 407.19 1039 406.88 1040 406.57 1041 406.26 1042 405.95 1043 405.64 1044 405.34 1045 405.03 1046 404.72 1047 404.41 1048 404.1 1049 403.79 1049.3 403.7 1050 403.48 1051 403.16 1052 402.83 1053 402.5 1054 402.16 1055 401.81 1056 401.47 1057 401.12 1058 400.77 1059 400.42 1060 400.08 1061 399.74 1062 399.4 1063 399.07 1064 398.75 1065 398.44 1066 398.14 1067 397.84 1068 397.56 1069 397.3 1070 397.05 1071 396.81 1072 396.59 1073 396.39 1074 396.21 1074.7 396.1 1075 396.05 1076 395.9 1077 395.75 1078 395.59 1079 395.44 1080 395.29 1081 395.14 1082 395 1083 394.86 1084 394.72 1085 394.58 1086 394.45 1087 394.33 1088 394.21 1089 394.09 1090 393.98 1091 393.88 1092 393.78 1093 393.7 1094 393.62 1095 393.54 1096 393.48 1097 393.42 1098 393.38 1099 393.34 1100 393.32 1101 393.3 1101.8 393.3 1102 393.3 1103 393.31 1104 393.32 1105 393.34 1106 393.37 1107 393.4 1108 393.44 1109 393.49 1110 393.55 1111 393.61 1112 393.67 1113 393.75 1114 393.82 1115 393.91 1116 393.99 1117 394.08 1118 394.18 1119 394.28 1120 394.38 1121 394.49 1122 394.6 1123 394.72 1124 394.84 1125 394.95 1126 395.08 1127 395.2 1128 395.33 1129 395.46 1130 395.59 1131 395.72 1132 395.85 1133 395.98 1133.9 396.1 1134 396.11 1135 396.26 1136 396.43 1137 396.61 1138 396.81 1139 397.02 1140 397.25 1141 397.49 1142 397.73 1143 397.99 1144 398.25 1145 398.51 1146 398.77 1147 399.03 1148 399.29 1149 399.55 1150 399.8 1151 400.05 1152 400.3 1153 400.56 1154 400.81 1155 401.08 1156 401.34 1157 401.61 1158 401.87 1159 402.15 1160 402.42 1161 402.69 1162 402.97 1163 403.24 1164 403.52 1165 403.8 1166 404.08 1167 404.36 1168 404.64 1169 404.92 1170 405.19 1171 405.47 1172 405.75 1173 406.02 1174 406.3 1175 406.57 1176 406.84 1177 407.11 1178 407.38 1179 407.64 1180 407.9 1181 408.16 1182 408.41 1183 408.66 1184 408.9 1185 409.15 1186 409.39 1187 409.64 1188 409.89 1189 410.14 1190 410.39 1191 410.65 1192 410.92 1192.3 411 1193 411.19 1194 411.47 1195 411.76 1196 412.05 1197 412.34 1198 412.64 1199 412.95 1200 413.26 1201 413.57 1202 413.88 1203 414.2 1204 414.52 1205 414.84 1206 415.17 1207 415.49 1208 415.82 1209 416.15 1210 416.47 1211 416.8 1212 417.13 1213 417.45 1214 417.78 1215 418.1 1216 418.43 1217 418.75 1218 419.06 1219 419.38 1220 419.69 1221 420 1222 420.3 1223 420.6 1224 420.9 1225 421.19 1226 421.48 1227 421.76 1228 422.03 1229 422.3 1230 422.56 1231 422.83 1232 423.08 1233 423.34 1234 423.6 1235 423.85 1236 424.1 1237 424.35 1238 424.59 1239 424.84 1240 425.08 1241 425.32 1242 425.56 1243 425.8 1244 426.03 1245 426.27 1246 426.5 1247 426.73 1248 426.96 1249 427.18 1250 427.41 1251 427.63 1252 427.86 1253 428.08 1254 428.3 1255 428.52 1256 428.73 1257 428.95 1258 429.16 1259 429.38 1260 429.59 1261 429.8 1262 430.01 1262.9 430.2 1263 430.22 1264 430.43 1265 430.64 1266 430.85 1267 431.06 1268 431.27 1269 431.48 1270 431.69 1271 431.9 1272 432.11 1273 432.32 1274 432.53 1275 432.74 1276 432.95 1277 433.16 1278 433.36 1279 433.57 1280 433.78 1281 433.98 1282 434.19 1283 434.39 1284 434.6 1285 434.8 1286 435 1287 435.2 1288 435.4 1289 435.6 1290 435.79 1291 435.99 1292 436.18 1293 436.38 1294 436.57 1295 436.76 1296 436.95 1297 437.13 1298 437.32 1299 437.5 1300 437.68 1301 437.86 1302 438.03 1303 438.21 1304 438.38 1305 438.55 1306 438.72 1307 438.88 1308 439.05 1309 439.21 1310 439.37 1311 439.52 1312 439.67 1313 439.82 1314 439.97 1315 440.11 1316 440.26 1317 440.39 1318 440.53 1319 440.66 1319.3 440.7 1320 440.79 1321 440.92 1322 441.05 1323 441.17 1324 441.3 1325 441.42 1326 441.55 1327 441.67 1328 441.79 1329 441.91 1330 442.03 1331 442.15 1332 442.27 1333 442.38 1334 442.5 1335 442.61 1336 442.73 1337 442.84 1338 442.95 1339 443.06 1340 443.17 1341 443.28 1342 443.38 1343 443.49 1344 443.59 1345 443.7 1346 443.8 1347 443.9 1348 444 1349 444.1 1350 444.2 1351 444.29 1352 444.39 1353 444.48 1354 444.58 1355 444.67 1356 444.76 1357 444.85 1358 444.94 1359 445.02 1360 445.11 1361 445.2 1362 445.28 1363 445.36 1364 445.44 1365 445.52 1366 445.6 1367 445.68 1368 445.76 1369 445.83 1370 445.9 1371 445.98 1372 446.05 1373 446.12 1374 446.19 1375 446.25 1375.7 446.3 1376 446.32 1377 446.39 1378 446.45 1379 446.52 1380 446.58 1381 446.64 1382 446.71 1383 446.77 1384 446.84 1385 446.9 1386 446.96 1387 447.03 1388 447.09 1389 447.15 1390 447.21 1391 447.27 1392 447.33 1393 447.39 1394 447.45 1395 447.51 1396 447.57 1397 447.63 1398 447.69 1399 447.75 1400 447.8 1401 447.86 1402 447.92 1403 447.97 1404 448.03 1405 448.08 1406 448.14 1407 448.19 1408 448.24 1409 448.29 1410 448.35 1411 448.4 1412 448.45 1413 448.5 1414 448.55 1415 448.59 1416 448.64 1417 448.69 1418 448.74 1419 448.78 1420 448.83 1421 448.87 1422 448.91 1423 448.96 1424 449 1425 449.04 1426 449.08 1427 449.12 1428 449.16 1429 449.19 1430 449.23 1431 449.27 1432 449.3 1433 449.34 1434 449.37 1435 449.4 1436 449.43 1437 449.46 1438 449.49 1439 449.52 1440 449.55 1441 449.58 1442 449.6 1443 449.63 1444 449.65 1445 449.67 1446 449.69 1446.3 449.7 1447 449.71 1448 449.73 1449 449.76 1450 449.78 1451 449.79 1452 449.81 1453 449.83 1454 449.85 1455 449.87 1456 449.89 1457 449.91 1458 449.93 1459 449.95 1460 449.96 1461 449.98 1462 450 1463 450.02 1464 450.03 1465 450.05 1466 450.07 1467 450.09 1468 450.1 1469 450.12 1470 450.13 1471 450.15 1472 450.17 1473 450.18 1474 450.2 1475 450.21 1476 450.23 1477 450.24 1478 450.26 1479 450.27 1480 450.29 1481 450.3 1482 450.32 1483 450.33 1484 450.34 1485 450.36 1486 450.37 1487 450.38 1488 450.4 1489 450.41 1490 450.42 1491 450.44 1492 450.45 1493 450.46 1494 450.48 1495 450.49 1496 450.5 1497 450.51 1498 450.52 1499 450.54 1500 450.55 1501 450.56 1502 450.57 1503 450.58 1504 450.59 1505 450.6 1506 450.61 1507 450.63 1508 450.64 1509 450.65 1510 450.66 1511 450.67 1512 450.68 1513 450.69 1514 450.7 1515 450.71 1516 450.72 1517 450.73 1518 450.74 1519 450.75 1520 450.76 1521 450.77 1522 450.77 1523 450.78 1524 450.79 1525 450.8 1526 450.81 1527 450.82 1528 450.83 1529 450.84 1530 450.85 1531 450.85 1532 450.86 1533 450.87 1534 450.88 1535 450.89 1536 450.89 1537 450.9 1538 450.91 1539 450.92 1540 450.93 1541 450.93 1542 450.94 1543 450.95 1544 450.96 1545 450.96 1546 450.97 1547 450.98 1548 450.99 1549 450.99 1550 451 1551 451.01 1552 451.01 1553 451.02 1554 451.03 1555 451.04 1556 451.04 1557 451.05 1558 451.06 1559 451.06 1560 451.07 1561 451.08 1562 451.08 1563 451.09 1564 451.1 1565 451.11 1566 451.11 1567 451.12 1568 451.13 1569 451.13 1570 451.14 1571 451.15 1572 451.15 1573 451.16 1574 451.17 1575 451.17 1576 451.18 1577 451.19 1578 451.19 1579 451.2 1580 451.2 1581 451.21 1582 451.22 1583 451.22 1584 451.23 1585 451.24 1586 451.24 1587 451.25 1588 451.25 1589 451.26 1590 451.27 1591 451.27 1592 451.28 1593 451.28 1594 451.29 1595 451.3 1596 451.3 1597 451.31 1598 451.31 1599 451.32 1600 451.32 1601 451.33 1602 451.33 1603 451.34 1604 451.34 1605 451.35 1606 451.35 1607 451.36 1608 451.36 1609 451.37 1610 451.37 1611 451.38 1612 451.38 1613 451.39 1614 451.39 1615 451.4 1616 451.4 1617 451.41 1618 451.41 1619 451.41 1620 451.42 1621 451.42 1622 451.43 1623 451.43 1624 451.43 1625 451.44 1626 451.44 1627 451.44 1628 451.45 1629 451.45 1630 451.45 1631 451.46 1632 451.46 1633 451.46 1634 451.47 1635 451.47 1636 451.47 1637 451.47 1638 451.48 1639 451.48 1640 451.48 1641 451.48 1642 451.49 1643 451.49 1644 451.49 1645 451.49 1646 451.49 1647 451.5 1648 451.5 1649 451.5 1650 451.5"/>
<path d="M105.3 693.6 106.3 693.32 107.3 693.04 108.3 692.75 109.31 692.44 110.31 692.13 111.31 691.81 112.31 691.49 113.31 691.16 114.31 690.82 115.31 690.47 115.8 690.3 116.32 690.12 117.32 689.76 118.32 689.39 119.32 689.01 120.32 688.61 121.32 688.21 122.32 687.79 123.33 687.36 123.7 687.2 124.33 686.92 125.33 686.45 126.33 685.97 127.33 685.47 128.33 684.95 129.34 684.43 130.34 683.89 131.34 683.34 131.6 683.2 132.34 682.79 133.34 682.23 134.34 681.67 135.34 681.09 136.35 680.49 137.35 679.87 138.35 679.24 139.35 678.57 139.6 678.4 140.35 677.87 141.35 677.11 142.35 676.3 143.36 675.47 144.36 674.63 145.36 673.79 146.36 672.98 147.36 672.2 147.5 672.1 148.36 671.48 149.36 670.79 150.37 670.13 151.37 669.48 152.37 668.82 153.37 668.13 154.37 667.41 155.37 666.62 155.4 666.6 156.37 665.78 157.38 664.89 158.38 663.95 159.38 662.96 160.38 661.94 161.38 660.87 162.38 659.75 163.3 658.7 163.38 658.6 164.39 657.37 165.39 656.03 166.39 654.63 167.39 653.18 168.39 651.7 169.39 650.21 170.39 648.75 171.2 647.6 171.4 647.32 172.4 645.92 173.4 644.51 174.4 643.1 175.4 641.7 176.4 640.29 177.41 638.88 178.41 637.47 179.1 636.5 179.41 636.07 180.41 634.7 181.41 633.37 182.41 632.04 183.41 630.7 184.42 629.32 185.42 627.87 186.42 626.34 187 625.4 187.42 624.69 188.42 622.84 189.42 620.85 190.42 618.75 191.43 616.6 192.43 614.47 193.43 612.4 194.43 610.46 194.9 609.6 195.43 608.67 196.43 606.98 197.43 605.35 198.44 603.76 199.44 602.21 200.44 600.67 201.44 599.13 202.44 597.57 202.8 597 203.44 595.98 204.44 594.39 205.45 592.8 206.45 591.21 207.45 589.63 208.45 588.04 209.45 586.45 210.45 584.85 210.8 584.3 211.45 583.23 212.46 581.55 213.46 579.82 214.46 578.09 215.46 576.39 216.46 574.77 217.46 573.26 218.46 571.9 218.7 571.6 219.47 570.67 220.47 569.48 221.47 568.34 222.47 567.27 223.47 566.27 224.47 565.34 225.48 564.51 226.48 563.78 226.6 563.7 227.48 563.13 228.48 562.5 229.48 561.9 230.48 561.35 231.48 560.85 232.49 560.42 233.49 560.07 234.49 559.8 234.5 559.8 235.49 559.59 236.49 559.38 237.49 559.21 238.49 559.08 239.5 559.01 240 559 240.5 559.04 241.5 559.33 242.5 559.84 243.5 560.5 244.5 561.24 245.5 561.99 245.8 562.2 246.51 562.73 247.51 563.57 248.51 564.5 249.51 565.51 250.51 566.58 251.51 567.68 252.51 568.79 253.52 569.9 253.7 570.1 254.52 570.99 255.52 572.09 256.52 573.21 257.52 574.36 258.52 575.55 259.52 576.8 260.53 578.11 261.53 579.5 261.6 579.6 262.53 580.99 263.53 582.61 264.53 584.33 265.53 586.13 266.54 587.99 267.54 589.88 268.54 591.79 269.54 593.69 269.6 593.8 270.54 595.62 271.54 597.63 272.54 599.7 273.55 601.79 274.55 603.86 275.55 605.89 276.55 607.85 277.5 609.6 277.55 609.69 278.55 611.43 279.55 613.1 280.56 614.72 281.56 616.3 282.56 617.85 283.56 619.41 284.56 620.97 285.4 622.3 285.56 622.56 286.56 624.15 287.57 625.72 288.57 627.28 289.57 628.85 290.57 630.43 291.57 632.04 292.57 633.68 293.3 634.9 293.57 635.37 294.58 637.13 295.58 638.94 296.58 640.8 297.58 642.67 298.58 644.53 299.58 646.36 300.58 648.14 301.2 649.2 301.59 649.86 302.59 651.55 303.59 653.24 304.59 654.9 305.59 656.53 306.59 658.12 307.59 659.64 308.6 661.1 309.1 661.8 309.6 662.48 310.6 663.79 311.6 665.06 312.6 666.29 313.6 667.48 314.61 668.63 315.61 669.76 316.61 670.87 317 671.3 317.61 671.96 318.61 673.05 319.61 674.12 320.61 675.16 321.62 676.18 322.62 677.16 323.62 678.09 324.62 678.97 324.9 679.2 325.62 679.79 326.62 680.59 327.62 681.35 328.63 682.09 329.63 682.79 330.63 683.46 331.63 684.1 332.63 684.7 332.8 684.8 333.63 685.28 334.63 685.83 335.64 686.36 336.64 686.87 337.64 687.36 338.64 687.82 339.64 688.24 340.64 688.64 340.8 688.7 341.64 689.01 342.65 689.36 343.65 689.69 344.65 690 345.65 690.29 346.65 690.57 347.65 690.84 348.65 691.09 348.7 691.1 349.66 691.33 350.66 691.57 351.66 691.8 352.66 692.02 353.66 692.23 354.66 692.41 355.66 692.57 356.6 692.7 356.67 692.71 357.67 692.83 358.67 692.94 359.67 693.05 360.67 693.15 361.67 693.24 362.68 693.33 363.68 693.42 364.68 693.5 365.68 693.57 366.68 693.63 367.68 693.69 368.68 693.74 369.69 693.79 370 693.8 370.69 693.83 371.69 693.86 372.69 693.9 373.69 693.94 374.69 693.97 375.69 694 376.7 694.04 377.7 694.07 378.7 694.1 379.7 694.13 380.7 694.15 381.7 694.18 382.7 694.21 383.71 694.23 384.71 694.25 385.71 694.28 386.71 694.3 387.71 694.32 388.71 694.34 389.71 694.36 390.72 694.38 391.72 694.39 392.72 694.41 393.72 694.42 394.72 694.44 395.72 694.45 396.72 694.46 397.73 694.48 398.73 694.49 399.73 694.5 400 694.5 400.73 694.51 401.73 694.52 402.73 694.53 403.74 694.54 404.74 694.54 405.74 694.55 406.74 694.56 407.74 694.57 408.74 694.58 409.74 694.59 410.75 694.6 411.75 694.61 412.75 694.62 413.75 694.63 414.75 694.63 415.75 694.64 416.75 694.65 417.76 694.66 418.76 694.67 419.76 694.68 420.76 694.69 421.76 694.69 422.76 694.7 423.76 694.71 424.77 694.72 425.77 694.73 426.77 694.73 427.77 694.74 428.77 694.75 429.77 694.76 430.77 694.76 431.78 694.77 432.78 694.78 433.78 694.79 434.78 694.79 435.78 694.8 436.78 694.81 437.78 694.81 438.79 694.82 439.79 694.83 440.79 694.83 441.79 694.84 442.79 694.85 443.79 694.85 444.79 694.86 445.8 694.87 446.8 694.87 447.8 694.88 448.8 694.89 449.8 694.89 450.8 694.9 451.81 694.9 452.81 694.91 453.81 694.92 454.81 694.92 455.81 694.93 456.81 694.93 457.81 694.94 458.82 694.94 459.82 694.95 460.82 694.95 461.82 694.96 462.82 694.96 463.82 694.97 464.82 694.97 465.83 694.98 466.83 694.98 467.83 694.99 468.83 694.99 469.83 695 470.83 695 471.83 695 472.84 695.01 473.84 695.01 474.84 695.02 475.84 695.02 476.84 695.02 477.84 695.03 478.84 695.03 479.85 695.03 480.85 695.04 481.85 695.04 482.85 695.04 483.85 695.05 484.85 695.05 485.85 695.05 486.86 695.06 487.86 695.06 488.86 695.06 489.86 695.06 490.86 695.07 491.86 695.07 492.86 695.07 493.87 695.07 494.87 695.08 495.87 695.08 496.87 695.08 497.87 695.08 498.87 695.08 499.88 695.09 500.88 695.09 501.88 695.09 502.88 695.09 503.88 695.09 504.88 695.09 505.88 695.09 506.89 695.1 507.89 695.1 508.89 695.1 509.89 695.1 510.89 695.1 511.89 695.1 512.89 695.1 513.9 695.1 514.9 695.1 515.9 695.1 516.9 695.1"/>
<path d="M720 695.1 721 695.1 722 695.1 723 695.09 724 695.09 725 695.08 726 695.07 727 695.06 728 695.05 729 695.04 730 695.02 731 695.01 732 694.99 733 694.97 734 694.95 735 694.93 736 694.91 737 694.88 738 694.86 739 694.83 740 694.81 741 694.78 742 694.75 743 694.72 744 694.68 745 694.65 746 694.61 747 694.58 748 694.54 749 694.5 750 694.46 751 694.42 752 694.38 753 694.34 754 694.3 755 694.25 756 694.21 757 694.16 758 694.11 759 694.06 760 694.01 760.3 694 761 693.96 762 693.9 763 693.82 764 693.73 765 693.63 766 693.53 767 693.41 768 693.28 769 693.14 770 692.99 771 692.84 772 692.67 773 692.5 774 692.32 775 692.14 776 691.95 777 691.75 778 691.55 779 691.34 780 691.13 780.6 691 781 690.91 782 690.67 783 690.41 784 690.13 785 689.82 786 689.5 787 689.15 788 688.78 789 688.4 790 688 791 687.59 792 687.16 793 686.71 794 686.26 795 685.79 796 685.31 797 684.82 798 684.32 799 683.81 800 683.3 801 682.77 802 682.21 803 681.62 804 681 805 680.34 806 679.66 807 678.95 808 678.21 809 677.43 810 676.62 811 675.78 811.9 675 812 674.91 813 673.96 814 672.91 815 671.77 816 670.57 817 669.31 818 668.02 819 666.7 820 665.38 821 664.07 822 662.78 823 661.54 823.7 660.7 824 660.35 825 659.19 826 658.04 827 656.91 828 655.78 829 654.66 830 653.54 831 652.41 832 651.28 833 650.14 834 648.98 835 647.81 835.6 647.1 836 646.62 837 645.4 838 644.15 839 642.89 840 641.61 841 640.32 842 639.04 843 637.76 844 636.48 845 635.23 846 634 847 632.79 847.5 632.2 848 631.61 849 630.44 850 629.28 851 628.12 852 626.97 853 625.84 854 624.72 855 623.62 856 622.54 857 621.5 858 620.48 859 619.49 859.3 619.2 860 618.53 861 617.6 862 616.68 863 615.78 864 614.89 865 614.03 866 613.18 867 612.36 868 611.55 869 610.76 870 610 871 609.25 871.2 609.1 872 608.51 873 607.79 874 607.07 875 606.36 876 605.67 877 605 878 604.34 879 603.71 880 603.1 881 602.52 882 601.97 883 601.45 883.1 601.4 884 600.95 885 600.45 886 599.96 887 599.48 888 599.01 889 598.56 890 598.14 891 597.75 892 597.4 893 597.08 894 596.82 895 596.6 896 596.41 897 596.22 898 596.05 899 595.9 900 595.77 901 595.67 902 595.61 902.7 595.6 903 595.6 904 595.68 905 595.83 906 596.04 907 596.32 908 596.63 909 596.99 910 597.36 911 597.74 912 598.12 913 598.49 913.9 598.8 914 598.83 915 599.17 916 599.51 917 599.87 918 600.23 919 600.6 920 600.98 921 601.38 922 601.78 923 602.19 924 602.62 925 603.06 926 603.51 927 603.97 927.7 604.3 928 604.44 929 604.94 930 605.45 931 605.99 932 606.54 933 607.11 934 607.7 935 608.3 936 608.92 937 609.55 938 610.19 939 610.85 940 611.51 941 612.19 941.6 612.6 942 612.88 943 613.59 944 614.32 945 615.08 946 615.85 947 616.65 948 617.46 949 618.28 950 619.11 951 619.96 952 620.8 953 621.66 954 622.51 955 623.36 955.4 623.7 956 624.21 957 625.08 958 625.95 959 626.84 960 627.73 961 628.63 962 629.54 963 630.45 964 631.36 965 632.28 966 633.2 967 634.11 968 635.02 969 635.93 969.3 636.2 970 636.83 971 637.75 972 638.67 973 639.59 974 640.51 975 641.44 976 642.37 977 643.29 978 644.2 979 645.11 980 646 981 646.89 982 647.76 983 648.62 983.1 648.7 984 649.46 985 650.3 986 651.14 987 651.98 988 652.81 989 653.63 990 654.44 991 655.24 992 656.03 993 656.8 994 657.55 995 658.29 996 659.01 997 659.7 998 660.38 999 661.04 1000 661.68 1001 662.31 1002 662.94 1003 663.54 1004 664.14 1005 664.73 1006 665.31 1007 665.88 1008 666.45 1009 667.01 1010 667.56 1010.8 668 1011 668.11 1012 668.66 1013 669.2 1014 669.75 1015 670.29 1016 670.82 1017 671.35 1018 671.87 1019 672.37 1020 672.87 1021 673.35 1022 673.82 1023 674.27 1024 674.71 1024.7 675 1025 675.12 1026 675.52 1027 675.91 1028 676.28 1029 676.65 1030 677 1031 677.35 1032 677.69 1033 678.02 1034 678.35 1035 678.67 1036 678.99 1037 679.32 1038 679.64 1038.5 679.8 1039 679.96 1040 680.28 1041 680.6 1042 680.92 1043 681.24 1044 681.55 1045 681.86 1046 682.16 1047 682.46 1048 682.76 1049 683.05 1050 683.34 1051 683.62 1052 683.89 1052.4 684 1053 684.16 1054 684.44 1055 684.71 1056 684.99 1057 685.26 1058 685.54 1059 685.81 1060 686.09 1061 686.36 1062 686.62 1063 686.89 1064 687.15 1065 687.4 1066 687.65 1067 687.89 1068 688.13 1069 688.36 1070 688.58 1071 688.78 1072 688.98 1073 689.17 1074 689.35 1075 689.52 1076 689.67 1076.2 689.7 1077 689.81 1078 689.95 1079 690.09 1080 690.23 1081 690.36 1082 690.49 1083 690.61 1084 690.74 1085 690.85 1086 690.97 1087 691.08 1088 691.19 1089 691.3 1090 691.4 1091 691.5 1092 691.59 1093 691.68 1094 691.77 1095 691.85 1096 691.93 1097 692.01 1098 692.08 1099 692.15 1100 692.21 1101 692.27 1101.6 692.3 1102 692.32 1103 692.37 1104 692.43 1105 692.48 1106 692.53 1107 692.57 1108 692.62 1109 692.67 1110 692.72 1111 692.76 1112 692.81 1113 692.85 1114 692.89 1115 692.93 1116 692.98 1117 693.02 1118 693.06 1119 693.09 1120 693.13 1121 693.17 1122 693.21 1123 693.24 1124 693.28 1125 693.31 1126 693.34 1127 693.38 1128 693.41 1129 693.44 1130 693.47 1131 693.5 1132 693.53 1133 693.56 1134 693.59 1135 693.61 1136 693.64 1137 693.67 1138 693.69 1139 693.72 1140 693.74 1141 693.77 1142 693.79 1143 693.81 1144 693.83 1145 693.86 1146 693.88 1147 693.9 1148 693.92 1149 693.94 1150 693.96 1151 693.97 1152 693.99 1152.4 694 1153 694.01 1154 694.03 1155 694.05 1156 694.06 1157 694.08 1158 694.1 1159 694.12 1160 694.13 1161 694.15 1162 694.17 1163 694.19 1164 694.2 1165 694.22 1166 694.24 1167 694.25 1168 694.27 1169 694.29 1170 694.3 1171 694.32 1172 694.34 1173 694.35 1174 694.37 1175 694.39 1176 694.4 1177 694.42 1178 694.44 1179 694.45 1180 694.47 1181 694.48 1182 694.5 1183 694.51 1184 694.53 1185 694.54 1186 694.56 1187 694.57 1188 694.59 1189 694.6 1190 694.62 1191 694.63 1192 694.65 1193 694.66 1194 694.67 1195 694.69 1196 694.7 1197 694.71 1198 694.73 1199 694.74 1200 694.75 1201 694.76 1202 694.78 1203 694.79 1204 694.8 1205 694.81 1206 694.82 1207 694.84 1208 694.85 1209 694.86 1210 694.87 1211 694.88 1212 694.89 1213 694.9 1214 694.91 1215 694.92 1216 694.93 1217 694.94 1218 694.95 1219 694.96 1220 694.97 1221 694.97 1222 694.98 1223 694.99 1224 695 1225 695.01 1226 695.01 1227 695.02 1228 695.03 1229 695.03 1230 695.04 1231 695.04 1232 695.05 1233 695.06 1234 695.06 1235 695.06 1236 695.07 1237 695.07 1238 695.08 1239 695.08 1240 695.08 1241 695.09 1242 695.09 1243 695.09 1244 695.09 1245 695.1 1246 695.1 1247 695.1 1248 695.1 1249 695.1 1250 695.1"/>
<path d="M760 695.1 761 695.09 762 695.08 763 695.07 764 695.06 765 695.05 766 695.03 767 695.01 768 695 769 694.98 770 694.96 771 694.94 772 694.92 773 694.9 774 694.87 775 694.85 776 694.83 777 694.8 778 694.77 779 694.75 780 694.72 781 694.69 782 694.66 783 694.63 784 694.6 785 694.57 786 694.53 787 694.5 788 694.47 789 694.43 790 694.4 791 694.37 792 694.33 793 694.3 794 694.26 795 694.22 796 694.19 797 694.15 798 694.11 799 694.08 800 694.04 801 694 802 693.96 803 693.93 804 693.89 805 693.85 806 693.81 807 693.77 808 693.73 809 693.69 810 693.65 811 693.61 812 693.57 813 693.52 814 693.47 815 693.42 816 693.37 817 693.31 818 693.26 819 693.2 820 693.13 821 693.06 822 692.99 823 692.92 824 692.84 825 692.75 826 692.67 827 692.57 828 692.48 829 692.37 829.7 692.3 830 692.27 831 692.12 832 691.93 833 691.71 834 691.44 835 691.14 836 690.81 837 690.45 838 690.07 839 689.66 840 689.22 841 688.78 842 688.31 843 687.83 844 687.35 845 686.85 846 686.35 847 685.85 847.5 685.6 848 685.34 849 684.81 850 684.23 851 683.62 852 682.98 853 682.3 854 681.59 855 680.84 856 680.07 857 679.26 858 678.43 859 677.56 859.3 677.3 860 676.66 861 675.7 862 674.67 863 673.59 864 672.46 865 671.27 866 670.04 867 668.77 868 667.47 869 666.13 870 664.77 871 663.38 871.2 663.1 872 661.95 873 660.44 874 658.86 875 657.21 876 655.51 877 653.78 878 652.01 879 650.22 880 648.42 881 646.62 882 644.84 883 643.07 883.1 642.9 884 641.32 885 639.55 886 637.77 887 635.98 888 634.18 889 632.37 890 630.56 891 628.75 892 626.93 893 625.12 894 623.31 895 621.5 896 619.7 897 617.89 898 616.08 899 614.26 900 612.45 901 610.64 902 608.83 903 607.02 904 605.22 905 603.42 906 601.63 906.8 600.2 907 599.84 908 598.04 909 596.21 910 594.39 911 592.59 912 590.84 913 589.15 913.9 587.7 914 587.54 915 586.01 916 584.51 917 583.06 918 581.66 919 580.31 920 579.01 920.8 578 921 577.75 922 576.49 923 575.23 924 574.01 925 572.85 926 571.81 927 570.92 927.7 570.4 928 570.2 929 569.53 930 568.87 931 568.24 932 567.66 933 567.15 934 566.73 935 566.42 936 566.24 936.7 566.2 937 566.21 938 566.29 939 566.48 940 566.76 941 567.12 942 567.54 943 568.02 944 568.54 945 569.09 946 569.66 947 570.24 948 570.82 948.5 571.1 949 571.39 950 572.03 951 572.74 952 573.51 953 574.34 954 575.22 955 576.14 956 577.1 957 578.08 958 579.09 959 580.11 960 581.14 961 582.17 962 583.2 962.3 583.5 963 584.21 964 585.25 965 586.3 966 587.38 967 588.49 968 589.63 969 590.81 970 592.03 971 593.29 972 594.6 973 596 974 597.5 975 599.08 976 600.73 977 602.43 978 604.15 979 605.88 980 607.59 981 609.27 982 610.9 983 612.45 983.1 612.6 984 613.94 985 615.41 986 616.85 987 618.26 988 619.65 989 620.99 990 622.3 991 623.55 992 624.75 993 625.92 994 627.07 995 628.22 996 629.39 997 630.6 998 631.86 999 633.16 1000 634.49 1001 635.85 1002 637.22 1003 638.6 1004 639.97 1005 641.34 1006 642.7 1007 644.02 1008 645.32 1009 646.57 1010 647.78 1010.8 648.7 1011 648.93 1012 650.04 1013 651.13 1014 652.2 1015 653.24 1016 654.27 1017 655.28 1018 656.27 1019 657.24 1020 658.19 1021 659.13 1022 660.06 1023 660.97 1024 661.88 1024.7 662.5 1025 662.77 1026 663.65 1027 664.53 1028 665.41 1029 666.27 1030 667.12 1031 667.96 1032 668.79 1033 669.59 1034 670.38 1035 671.14 1036 671.88 1037 672.59 1038 673.27 1038.5 673.6 1039 673.92 1040 674.55 1041 675.16 1042 675.75 1043 676.33 1044 676.89 1045 677.44 1046 677.97 1047 678.49 1048 679.01 1049 679.51 1050 680.01 1051 680.51 1052 681 1052.4 681.2 1053 681.5 1054 682.01 1055 682.52 1056 683.05 1057 683.57 1058 684.09 1059 684.6 1060 685.1 1061 685.58 1062 686.04 1063 686.47 1064 686.87 1065 687.24 1066 687.56 1067 687.84 1067.7 688 1068 688.06 1069 688.27 1070 688.47 1071 688.66 1072 688.85 1073 689.02 1074 689.19 1075 689.35 1076 689.51 1077 689.66 1078 689.8 1079 689.93 1080 690.06 1081 690.19 1082 690.31 1083 690.42 1084 690.54 1085 690.64 1086 690.75 1087 690.85 1088 690.95 1089 691.04 1090 691.13 1091 691.22 1092 691.31 1093 691.4 1094 691.49 1095 691.57 1096 691.66 1097 691.74 1098 691.82 1099 691.91 1100 691.99 1101 692.07 1102 692.15 1103 692.22 1104 692.3 1105 692.38 1106 692.45 1107 692.52 1108 692.6 1109 692.67 1110 692.74 1111 692.8 1112 692.87 1113 692.94 1114 693 1115 693.06 1116 693.13 1117 693.19 1118 693.24 1119 693.3 1120 693.36 1121 693.41 1122 693.46 1123 693.51 1124 693.56 1125 693.61 1126 693.66 1127 693.7 1128 693.74 1129 693.78 1130 693.82 1131 693.86 1132 693.89 1133 693.93 1134 693.96 1135 693.99 1135.4 694 1136 694.02 1137 694.04 1138 694.07 1139 694.1 1140 694.13 1141 694.15 1142 694.18 1143 694.21 1144 694.23 1145 694.26 1146 694.28 1147 694.31 1148 694.34 1149 694.36 1150 694.39 1151 694.41 1152 694.43 1153 694.46 1154 694.48 1155 694.51 1156 694.53 1157 694.55 1158 694.57 1159 694.6 1160 694.62 1161 694.64 1162 694.66 1163 694.68 1164 694.7 1165 694.72 1166 694.74 1167 694.76 1168 694.78 1169 694.8 1170 694.82 1171 694.83 1172 694.85 1173 694.87 1174 694.88 1175 694.9 1176 694.91 1177 694.93 1178 694.94 1179 694.95 1180 694.97 1181 694.98 1182 694.99 1183 695 1184 695.01 1185 695.02 1186 695.03 1187 695.04 1188 695.05 1189 695.06 1190 695.07 1191 695.07 1192 695.08 1193 695.08 1194 695.09 1195 695.09 1196 695.09 1197 695.1 1198 695.1 1199 695.1 1200 695.1"/>
<path d="M105.3 937.5 105.8 920 106.3 890 106.3 889.9 106.8 850 107.3 824.31 107.6 815 108.3 804.24 108.5 803 109.31 800.81 109.5 800.7 110.31 801.41 111.31 803.96 112.31 807.77 113.31 812.24 114.31 816.77 115.3 820.7 115.31 820.75 116.32 824.29 117.32 827.85 118.32 831.44 119.32 835.04 120.32 838.66 121.32 842.27 122.32 845.88 123 848.3 123.33 849.47 124.33 853.1 125.33 856.75 126.33 860.41 127.33 864.05 128.33 867.65 129.34 871.2 130.34 874.67 130.7 875.9 131.34 878.06 132.34 881.48 133.34 884.89 134.34 888.24 135.34 891.51 136.35 894.64 137.35 897.61 138.35 900.36 138.4 900.5 139.35 902.95 140.35 905.46 141.35 907.86 142.35 910.16 143.36 912.33 144.36 914.37 145.36 916.27 146 917.4 146.36 918.01 147.36 919.71 148.36 921.35 149.36 922.92 150.37 924.38 151.37 925.7 152.37 926.86 153.37 927.83 153.7 928.1 154.37 928.62 155.37 929.35 156.37 930.05 157.38 930.69 158.38 931.29 159.38 931.85 160.38 932.36 161.38 932.83 162.38 933.24 163.38 933.62 164.39 933.94 165.3 934.2 165.39 934.22 166.39 934.48 167.39 934.71 168.39 934.94 169.39 935.16 170.39 935.36 171.4 935.55 172.4 935.73 173.4 935.9 174.4 936.06 175.4 936.21 176.4 936.35 177.41 936.47 178.41 936.59 179.41 936.7 180.41 936.8 181.41 936.88 181.6 936.9 182.41 936.97 183.41 937.05 184.42 937.12 185.42 937.19 186.42 937.26 187.42 937.33 188.42 937.4 189.42 937.46 190.42 937.51 191.43 937.57 192.43 937.62 193.43 937.67 194.43 937.71 195.43 937.75 196.43 937.79 197.43 937.83 198.44 937.86 199.44 937.89 200 937.9 200.44 937.91 201.44 937.93 202.44 937.96 203.44 937.98 204.44 938 205.45 938.03 206.45 938.05 207.45 938.07 208.45 938.09 209.45 938.11 210.45 938.13 211.45 938.15 212.46 938.17 213.46 938.19 214.46 938.21 215.46 938.23 216.46 938.25 217.46 938.27 218.46 938.29 219.47 938.31 220.47 938.32 221.47 938.34 222.47 938.36 223.47 938.37 224.47 938.39 225.48 938.41 226.48 938.42 227.48 938.44 228.48 938.45 229.48 938.47 230.48 938.48 231.48 938.49 232.49 938.51 233.49 938.52 234.49 938.53 235.49 938.54 236.49 938.55 237.49 938.57 238.49 938.58 239.5 938.59 240.5 938.6 241.5 938.61 242.5 938.61 243.5 938.62 244.5 938.63 245.5 938.64 246.51 938.65 247.51 938.65 248.51 938.66 249.51 938.66 250.51 938.67 251.51 938.68 252.51 938.68 253.52 938.68 254.52 938.69 255.52 938.69 256.52 938.69 257.52 938.7 258.52 938.7 259.52 938.7 260 938.7 260.53 938.7 261.53 938.7 262.53 938.7 263.53 938.7 264.53 938.7 265.53 938.71 266.54 938.71 267.54 938.71 268.54 938.71 269.54 938.71 270.54 938.71 271.54 938.71 272.54 938.71 273.55 938.71 274.55 938.71 275.55 938.71 276.55 938.71 277.55 938.72 278.55 938.72 279.55 938.72 280.56 938.72 281.56 938.72 282.56 938.72 283.56 938.72 284.56 938.72 285.56 938.72 286.56 938.72 287.57 938.72 288.57 938.72 289.57 938.73 290.57 938.73 291.57 938.73 292.57 938.73 293.57 938.73 294.58 938.73 295.58 938.73 296.58 938.73 297.58 938.73 298.58 938.73 299.58 938.73 300.58 938.73 301.59 938.73 302.59 938.74 303.59 938.74 304.59 938.74 305.59 938.74 306.59 938.74 307.59 938.74 308.6 938.74 309.6 938.74 310.6 938.74 311.6 938.74 312.6 938.74 313.6 938.74 314.61 938.74 315.61 938.74 316.61 938.74 317.61 938.75 318.61 938.75 319.61 938.75 320.61 938.75 321.62 938.75 322.62 938.75 323.62 938.75 324.62 938.75 325.62 938.75 326.62 938.75 327.62 938.75 328.63 938.75 329.63 938.75 330.63 938.75 331.63 938.75 332.63 938.75 333.63 938.76 334.63 938.76 335.64 938.76 336.64 938.76 337.64 938.76 338.64 938.76 339.64 938.76 340.64 938.76 341.64 938.76 342.65 938.76 343.65 938.76 344.65 938.76 345.65 938.76 346.65 938.76 347.65 938.76 348.65 938.76 349.66 938.76 350.66 938.76 351.66 938.76 352.66 938.77 353.66 938.77 354.66 938.77 355.66 938.77 356.67 938.77 357.67 938.77 358.67 938.77 359.67 938.77 360.67 938.77 361.67 938.77 362.68 938.77 363.68 938.77 364.68 938.77 365.68 938.77 366.68 938.77 367.68 938.77 368.68 938.77 369.69 938.77 370.69 938.77 371.69 938.77 372.69 938.77 373.69 938.77 374.69 938.78 375.69 938.78 376.7 938.78 377.7 938.78 378.7 938.78 379.7 938.78 380.7 938.78 381.7 938.78 382.7 938.78 383.71 938.78 384.71 938.78 385.71 938.78 386.71 938.78 387.71 938.78 388.71 938.78 389.71 938.78 390.72 938.78 391.72 938.78 392.72 938.78 393.72 938.78 394.72 938.78 395.72 938.78 396.72 938.78 397.73 938.78 398.73 938.78 399.73 938.78 400.73 938.78 401.73 938.78 402.73 938.78 403.74 938.79 404.74 938.79 405.74 938.79 406.74 938.79 407.74 938.79 408.74 938.79 409.74 938.79 410.75 938.79 411.75 938.79 412.75 938.79 413.75 938.79 414.75 938.79 415.75 938.79 416.75 938.79 417.76 938.79 418.76 938.79 419.76 938.79 420.76 938.79 421.76 938.79 422.76 938.79 423.76 938.79 424.77 938.79 425.77 938.79 426.77 938.79 427.77 938.79 428.77 938.79 429.77 938.79 430.77 938.79 431.78 938.79 432.78 938.79 433.78 938.79 434.78 938.79 435.78 938.79 436.78 938.79 437.78 938.79 438.79 938.79 439.79 938.79 440.79 938.79 441.79 938.79 442.79 938.79 443.79 938.79 444.79 938.79 445.8 938.79 446.8 938.79 447.8 938.79 448.8 938.8 449.8 938.8 450.8 938.8 451.81 938.8 452.81 938.8 453.81 938.8 454.81 938.8 455.81 938.8 456.81 938.8 457.81 938.8 458.82 938.8 459.82 938.8 460.82 938.8 461.82 938.8 462.82 938.8 463.82 938.8 464.82 938.8 465.83 938.8 466.83 938.8 467.83 938.8 468.83 938.8 469.83 938.8 470.83 938.8 471.83 938.8 472.84 938.8 473.84 938.8 474.84 938.8 475.84 938.8 476.84 938.8 477.84 938.8 478.84 938.8 479.85 938.8 480.85 938.8 481.85 938.8 482.85 938.8 483.85 938.8 484.85 938.8 485.85 938.8 486.86 938.8 487.86 938.8 488.86 938.8 489.86 938.8 490.86 938.8 491.86 938.8 492.86 938.8 493.87 938.8 494.87 938.8 495.87 938.8 496.87 938.8 497.87 938.8 498.87 938.8 499.88 938.8 500.88 938.8 501.88 938.8 502.88 938.8 503.88 938.8 504.88 938.8 505.88 938.8 506.89 938.8 507.89 938.8 508.89 938.8 509.89 938.8 510.89 938.8 511.89 938.8 512.89 938.8 513.9 938.8 514.9 938.8 515.9 938.8 516.9 938.8"/>
<path d="M690 938.8 691 938.8 692 938.8 693 938.79 694 938.79 695 938.78 696 938.77 697 938.76 698 938.75 699 938.74 700 938.73 701 938.71 702 938.7 703 938.68 704 938.66 705 938.64 706 938.62 707 938.6 708 938.58 709 938.55 710 938.53 711 938.5 712 938.47 713 938.44 714 938.41 715 938.38 716 938.35 717 938.32 718 938.28 719 938.25 720 938.21 721 938.18 722 938.14 723 938.1 724 938.06 725 938.02 726 937.98 727 937.93 728 937.89 729 937.85 730 937.8 731 937.74 732 937.67 733 937.58 734 937.48 735 937.37 736 937.26 737 937.14 738 937.02 739 936.91 739.1 936.9 740 936.81 741 936.71 742 936.61 743 936.51 744 936.39 745 936.25 746 936.08 746.4 936 747 935.85 748 935.49 749 935.01 750 934.45 751 933.84 752 933.22 752.7 932.8 753 932.62 754 931.99 755 931.31 756 930.59 757 929.84 757.3 929.6 758 929.04 759 928.2 760 927.31 761 926.34 761.8 925.5 762 925.28 763 924.08 764 922.76 765 921.33 766 919.82 766.4 919.2 767 918.23 768 916.48 769 914.63 770 912.72 770.9 911 771 910.81 772 908.92 773 907.01 774 905.04 775 902.98 775.5 901.9 776 900.77 777 898.36 778 895.83 779 893.3 780 890.9 781 888.65 782 886.48 783 884.35 784 882.21 784.6 880.9 785 880.01 786 877.76 787 875.5 788 873.26 789 871.11 789.1 870.9 790 869.03 791 867 792 865.05 792.8 863.6 793 863.23 794 861.16 795 859.56 795.5 859.3 796 859.35 797 859.7 798 860.26 799 860.91 800 861.5 801 862 802 862.48 803 863.01 804 863.63 804.5 864 805 864.44 806 865.55 807 866.9 808 868.37 809 869.85 809.1 870 810 871.35 811 872.94 812 874.59 813 876.28 813.6 877.3 814 877.98 815 879.68 816 881.41 817 883.21 818 885.11 818.2 885.5 819 887.16 820 889.4 821 891.71 822 893.99 822.7 895.5 823 896.13 824 898.2 825 900.23 826 902.19 827 904.06 827.3 904.6 828 905.82 829 907.47 830 909.06 831 910.63 831.8 911.9 832 912.22 833 913.84 834 915.46 835 917.05 836 918.6 836.4 919.2 837 920.1 838 921.58 839 923.03 840 924.39 840.9 925.5 841 925.62 842 926.76 843 927.83 844 928.83 845 929.71 845.5 930.1 846 930.47 847 931.14 848 931.75 849 932.3 850 932.8 851 933.26 852 933.69 853 934.08 854 934.42 854.6 934.6 855 934.71 856 934.96 857 935.19 858 935.41 859 935.61 860 935.8 861 935.97 862 936.14 863 936.29 863.7 936.4 864 936.45 865 936.6 866 936.74 867 936.89 868 937.02 869 937.15 870 937.26 871 937.36 872 937.45 872.8 937.5 873 937.51 874 937.57 875 937.62 876 937.67 877 937.72 878 937.77 879 937.82 880 937.86 881 937.9 882 937.94 883 937.98 884 938.02 885 938.05 886 938.09 887 938.12 888 938.15 889 938.18 890 938.2 891 938.23 892 938.25 893 938.28 894 938.3 895 938.32 896 938.34 897 938.35 898 938.37 899 938.39 900 938.4 901 938.41 902 938.43 903 938.44 904 938.45 905 938.47 906 938.48 907 938.49 908 938.5 909 938.52 910 938.53 911 938.54 912 938.55 913 938.56 914 938.58 915 938.59 916 938.6 917 938.61 918 938.62 919 938.63 920 938.64 921 938.65 922 938.66 923 938.67 924 938.68 925 938.69 926 938.69 927 938.7 928 938.71 929 938.72 930 938.73 931 938.73 932 938.74 933 938.75 934 938.75 935 938.76 936 938.76 937 938.77 938 938.77 939 938.78 940 938.78 941 938.78 942 938.79 943 938.79 944 938.79 945 938.79 946 938.8 947 938.8 948 938.8 949 938.8 950 938.8"/>
<path d="M740 938.8 741 938.8 742 938.8 743 938.8 744 938.8 745 938.79 746 938.79 747 938.78 748 938.78 749 938.77 750 938.77 751 938.76 752 938.75 753 938.75 754 938.74 755 938.73 756 938.72 757 938.71 758 938.7 759 938.68 760 938.67 761 938.66 762 938.64 763 938.63 764 938.61 765 938.59 766 938.58 767 938.56 768 938.54 769 938.52 770 938.5 771 938.47 772 938.43 773 938.38 774 938.31 775 938.23 776 938.13 777 938.02 778 937.89 779 937.75 780 937.58 781 937.4 782 937.07 783 936.5 784 935.77 785 934.93 786 934.05 786.4 933.7 787 933.17 788 932.21 789 931.16 790 929.97 791 928.64 791.9 927.3 792 927.14 793 925.2 794 922.86 795 920.39 795.5 919.2 796 918.04 797 915.7 798 913.33 799 910.92 800 908.45 800.1 908.2 801 905.91 802 903.28 803 900.62 804 897.97 804.6 896.4 805 895.37 806 892.86 807 890.37 808 887.83 809 885.16 809.2 884.6 810 882.2 811 879.03 811.9 876.4 812 876.13 813 873.54 814 871.2 814.6 870 815 869.27 816 867.49 817 865.95 818 864.83 818.3 864.6 819 864.14 820 863.67 820.5 863.6 821 863.62 822 863.74 823 863.95 824 864.25 825 864.6 826 864.99 827 865.38 827.3 865.5 828 865.8 829 866.3 830 866.9 831 867.59 831.8 868.2 832 868.36 833 869.32 834 870.46 835 871.74 836 873.13 836.4 873.7 837 874.61 838 876.31 839 878.16 840 880.08 840.9 881.8 841 881.99 842 883.96 843 886 844 888.04 845 889.98 845.5 890.9 846 891.78 847 893.48 848 895.11 849 896.68 850 898.2 851 899.65 852 901.04 853 902.4 854 903.77 854.6 904.6 855 905.17 856 906.62 857 908.09 858 909.52 859 910.87 859.1 911 860 912.15 861 913.4 862 914.59 863 915.69 863.7 916.4 864 916.69 865 917.6 866 918.45 867 919.24 868 919.96 868.2 920.1 869 920.61 870 921.18 871 921.73 872 922.29 872.8 922.8 873 922.94 874 923.71 875 924.55 876 925.4 877 926.19 877.3 926.4 878 926.87 879 927.52 880 928.13 881 928.7 881.9 929.2 882 929.25 883 929.81 884 930.35 885 930.85 886 931.27 886.4 931.4 887 931.58 888 931.84 889 932.08 890 932.28 891 932.48 892 932.66 893 932.83 894 933.01 895 933.2 895.5 933.3 896 933.4 897 933.6 898 933.8 899 934 900 934.2 901 934.39 902 934.59 903 934.78 904 934.98 904.6 935.1 905 935.18 906 935.38 907 935.59 908 935.8 909 936.01 910 936.21 911 936.41 912 936.6 913 936.78 913.7 936.9 914 936.95 915 937.12 916 937.3 917 937.46 918 937.61 919 937.72 920 937.8 921 937.85 922 937.9 923 937.95 924 937.99 925 938.04 926 938.08 927 938.12 928 938.15 929 938.19 930 938.22 931 938.25 932 938.28 933 938.31 934 938.34 935 938.37 936 938.39 937 938.41 938 938.43 939 938.45 940 938.47 941 938.49 942 938.5 943 938.52 944 938.53 945 938.55 946 938.56 947 938.57 948 938.58 949 938.59 950 938.6 951 938.61 952 938.62 953 938.63 954 938.63 955 938.64 956 938.65 957 938.66 958 938.67 959 938.67 960 938.68 961 938.69 962 938.69 963 938.7 964 938.71 965 938.71 966 938.72 967 938.73 968 938.73 969 938.74 970 938.74 971 938.75 972 938.75 973 938.76 974 938.76 975 938.77 976 938.77 977 938.78 978 938.78 979 938.78 980 938.79 981 938.79 982 938.79 983 938.79 984 938.79 985 938.8 986 938.8 987 938.8 988 938.8 989 938.8 990 938.8"/></g>
<path d="M781.5 206.5 C781.5 197.2 783.36 189.6 786.8 189.6 L810.5 189.6 C813.25 185.16 815.5 183.5 815.5 178.5 C815.5 183.5 817.75 185.16 820.5 189.6 L847.4 189.6 C850.39 189.6 852 196.98 852 206 M815.5 178.5V61.1 M133.2 450.9 C133.2 441.38 136.17 433.6 141.7 433.6 L220.1 433.6 C224.5 429.44 228.1 427.88 228.1 423.2 C228.1 427.88 231.7 429.44 236.1 433.6 L309.8 433.6 C315.32 433.6 318.3 440.31 318.3 448.5 M228.1 423.2V308.6 M777.6 451 C777.6 431.09 779.49 414.8 783 414.8 L840.1 414.8 C843.01 410.28 845.4 408.58 845.4 403.5 C845.4 408.58 847.78 410.28 850.7 414.8 L934.2 414.8 C936.74 414.8 938.1 426.77 938.1 441.4 M845.4 403.5V305 M929 450.3 C929 446.89 931.41 444.1 935.9 444.1 L1096.8 444.1 C1099.55 442.18 1101.8 441.46 1101.8 439.3 C1101.8 441.46 1104.05 442.18 1106.8 444.1 L1350 444.1 C1352.6 444.1 1354 446.44 1354 449.3 M1101.8 439.3V393.3 M146.7 694 C146.7 685.42 149.46 678.4 154.6 678.4 L231.7 678.4 C236.26 674.32 240 672.79 240 668.2 C240 672.79 243.74 674.32 248.3 678.4 L311.5 678.4 C316.63 678.4 319.4 685.42 319.4 694 M240 668.2V559 M804.2 694 C804.2 680.86 805.85 670.1 808.9 670.1 L897.2 670.1 C900.23 667.06 902.7 665.92 902.7 662.5 C902.7 665.92 905.18 667.06 908.2 670.1 L1032 670.1 C1036.55 670.1 1039 680.86 1039 694 M902.7 662.5V595.6 M858.2 694 C858.2 685.69 860.27 678.9 864.1 678.9 L931.2 678.9 C934.23 676.22 936.7 675.22 936.7 672.2 C936.7 675.22 939.18 676.22 942.2 678.9 L1040.1 678.9 C1043.67 678.9 1045.6 685.69 1045.6 694 M936.7 672.2V566.2 M758.2 937.8 C758.2 932.68 760.12 928.5 763.7 928.5 L790 928.5 C793.02 925.5 795.5 924.38 795.5 921 C795.5 924.38 797.98 925.5 801 928.5 L838.7 928.5 C841.95 928.5 843.7 932.68 843.7 937.8 M795.5 921V859.3 M789.1 937.8 C789.1 928.06 791.38 920.1 795.6 920.1 L815.5 920.1 C818.25 917.54 820.5 916.58 820.5 913.7 C820.5 916.58 822.75 917.54 825.5 920.1 L880.1 920.1 C883.02 920.1 884.6 927.03 884.6 935.5 M820.5 913.7V863.6 M106.9 934.2 C107.2 926 108.3 921 109.5 915.8 C110 919.5 110.8 921.2 113 921.2 L145.3 921.2 C147.6 921.2 149.1 928 149.1 935.8 M109.5 915.8V800.7" fill="none" stroke="#000" stroke-width="2.1" stroke-linejoin="round"/>
<path d="M902.5 595.5V542.5 M795.5 859.3V815.5" fill="none" stroke="#000" stroke-width="2" stroke-dasharray="2.08 6.25"/>
<path d="M646 207.7V199.37M646 18.2V26.53M920.25 207.7V199.37M920.25 18.2V26.53M1194.5 207.7V199.37M1194.5 18.2V26.53M1468.75 207.7V199.37M1468.75 18.2V26.53M1743 207.7V199.37M1743 18.2V26.53M646 207.7H654.33M1743 207.7H1734.67M646 184.01H654.33M1743 184.01H1734.67M646 160.32H654.33M1743 160.32H1734.67M646 136.64H654.33M1743 136.64H1734.67M646 112.95H654.33M1743 112.95H1734.67M646 89.26H654.33M1743 89.26H1734.67M646 65.57H654.33M1743 65.57H1734.67M646 41.89H654.33M1743 41.89H1734.67M646 18.2H654.33M1743 18.2H1734.67" stroke="#000" stroke-width="1.05" fill="none"/>
<rect x="646" y="18.2" width="1097" height="189.5" fill="none" stroke="#000" stroke-width="2.0"/>
<text class="t" transform="translate(637.4 215.2) scale(1 1.05)" text-anchor="end">0.00</text>
<text class="t" transform="translate(637.4 191.51) scale(1 1.05)" text-anchor="end">0.02</text>
<text class="t" transform="translate(637.4 167.82) scale(1 1.05)" text-anchor="end">0.04</text>
<text class="t" transform="translate(637.4 144.14) scale(1 1.05)" text-anchor="end">0.06</text>
<text class="t" transform="translate(637.4 120.45) scale(1 1.05)" text-anchor="end">0.08</text>
<text class="t" transform="translate(637.4 96.76) scale(1 1.05)" text-anchor="end">0.10</text>
<text class="t" transform="translate(637.4 73.07) scale(1 1.05)" text-anchor="end">0.12</text>
<text class="t" transform="translate(637.4 49.39) scale(1 1.05)" text-anchor="end">0.14</text>
<text class="t" transform="translate(637.4 25.7) scale(1 1.05)" text-anchor="end">0.16</text>
<path d="M105.3 451.5V443.17M105.3 261.9V270.23M160.18 451.5V443.17M160.18 261.9V270.23M215.06 451.5V443.17M215.06 261.9V270.23M269.94 451.5V443.17M269.94 261.9V270.23M324.82 451.5V443.17M324.82 261.9V270.23M379.7 451.5V443.17M379.7 261.9V270.23M434.58 451.5V443.17M434.58 261.9V270.23M489.46 451.5V443.17M489.46 261.9V270.23M105.3 451.5H113.63M516.9 451.5H508.57M105.3 419.9H113.63M516.9 419.9H508.57M105.3 388.3H113.63M516.9 388.3H508.57M105.3 356.7H113.63M516.9 356.7H508.57M105.3 325.1H113.63M516.9 325.1H508.57M105.3 293.5H113.63M516.9 293.5H508.57M105.3 261.9H113.63M516.9 261.9H508.57" stroke="#000" stroke-width="1.05" fill="none"/>
<rect x="105.3" y="261.9" width="411.6" height="189.6" fill="none" stroke="#000" stroke-width="2.0"/>
<text class="t" transform="translate(96.7 459) scale(1 1.05)" text-anchor="end">0.00</text>
<text class="t" transform="translate(96.7 427.4) scale(1 1.05)" text-anchor="end">0.05</text>
<text class="t" transform="translate(96.7 395.8) scale(1 1.05)" text-anchor="end">0.10</text>
<text class="t" transform="translate(96.7 364.2) scale(1 1.05)" text-anchor="end">0.15</text>
<text class="t" transform="translate(96.7 332.6) scale(1 1.05)" text-anchor="end">0.20</text>
<text class="t" transform="translate(96.7 301) scale(1 1.05)" text-anchor="end">0.25</text>
<text class="t" transform="translate(96.7 269.4) scale(1 1.05)" text-anchor="end">0.30</text>
<path d="M646 451.5V443.17M646 261.9V270.23M920.25 451.5V443.17M920.25 261.9V270.23M1194.5 451.5V443.17M1194.5 261.9V270.23M1468.75 451.5V443.17M1468.75 261.9V270.23M1743 451.5V443.17M1743 261.9V270.23M646 451.5H654.33M1743 451.5H1734.67M646 424.41H654.33M1743 424.41H1734.67M646 397.33H654.33M1743 397.33H1734.67M646 370.24H654.33M1743 370.24H1734.67M646 343.16H654.33M1743 343.16H1734.67M646 316.07H654.33M1743 316.07H1734.67M646 288.99H654.33M1743 288.99H1734.67M646 261.9H654.33M1743 261.9H1734.67" stroke="#000" stroke-width="1.05" fill="none"/>
<rect x="646" y="261.9" width="1097" height="189.6" fill="none" stroke="#000" stroke-width="2.0"/>
<text class="t" transform="translate(637.4 459) scale(1 1.05)" text-anchor="end">0.00</text>
<text class="t" transform="translate(637.4 431.91) scale(1 1.05)" text-anchor="end">0.01</text>
<text class="t" transform="translate(637.4 404.83) scale(1 1.05)" text-anchor="end">0.02</text>
<text class="t" transform="translate(637.4 377.74) scale(1 1.05)" text-anchor="end">0.03</text>
<text class="t" transform="translate(637.4 350.66) scale(1 1.05)" text-anchor="end">0.04</text>
<text class="t" transform="translate(637.4 323.57) scale(1 1.05)" text-anchor="end">0.05</text>
<text class="t" transform="translate(637.4 296.49) scale(1 1.05)" text-anchor="end">0.06</text>
<text class="t" transform="translate(637.4 269.4) scale(1 1.05)" text-anchor="end">0.07</text>
<path d="M105.3 695.1V686.77M105.3 505.6V513.93M160.18 695.1V686.77M160.18 505.6V513.93M215.06 695.1V686.77M215.06 505.6V513.93M269.94 695.1V686.77M269.94 505.6V513.93M324.82 695.1V686.77M324.82 505.6V513.93M379.7 695.1V686.77M379.7 505.6V513.93M434.58 695.1V686.77M434.58 505.6V513.93M489.46 695.1V686.77M489.46 505.6V513.93M105.3 695.1H113.63M516.9 695.1H508.57M105.3 668.03H113.63M516.9 668.03H508.57M105.3 640.96H113.63M516.9 640.96H508.57M105.3 613.89H113.63M516.9 613.89H508.57M105.3 586.81H113.63M516.9 586.81H508.57M105.3 559.74H113.63M516.9 559.74H508.57M105.3 532.67H113.63M516.9 532.67H508.57M105.3 505.6H113.63M516.9 505.6H508.57" stroke="#000" stroke-width="1.05" fill="none"/>
<rect x="105.3" y="505.6" width="411.6" height="189.5" fill="none" stroke="#000" stroke-width="2.0"/>
<text class="t" transform="translate(96.7 702.6) scale(1 1.05)" text-anchor="end">0.00</text>
<text class="t" transform="translate(96.7 675.53) scale(1 1.05)" text-anchor="end">0.05</text>
<text class="t" transform="translate(96.7 648.46) scale(1 1.05)" text-anchor="end">0.10</text>
<text class="t" transform="translate(96.7 621.39) scale(1 1.05)" text-anchor="end">0.15</text>
<text class="t" transform="translate(96.7 594.31) scale(1 1.05)" text-anchor="end">0.20</text>
<text class="t" transform="translate(96.7 567.24) scale(1 1.05)" text-anchor="end">0.25</text>
<text class="t" transform="translate(96.7 540.17) scale(1 1.05)" text-anchor="end">0.30</text>
<text class="t" transform="translate(96.7 513.1) scale(1 1.05)" text-anchor="end">0.35</text>
<path d="M646 695.1V686.77M646 505.6V513.93M920.25 695.1V686.77M920.25 505.6V513.93M1194.5 695.1V686.77M1194.5 505.6V513.93M1468.75 695.1V686.77M1468.75 505.6V513.93M1743 695.1V686.77M1743 505.6V513.93M646 695.1H654.33M1743 695.1H1734.67M646 668.03H654.33M1743 668.03H1734.67M646 640.96H654.33M1743 640.96H1734.67M646 613.89H654.33M1743 613.89H1734.67M646 586.81H654.33M1743 586.81H1734.67M646 559.74H654.33M1743 559.74H1734.67M646 532.67H654.33M1743 532.67H1734.67M646 505.6H654.33M1743 505.6H1734.67" stroke="#000" stroke-width="1.05" fill="none"/>
<rect x="646" y="505.6" width="1097" height="189.5" fill="none" stroke="#000" stroke-width="2.0"/>
<text class="t" transform="translate(637.4 702.6) scale(1 1.05)" text-anchor="end">0.00</text>
<text class="t" transform="translate(637.4 675.53) scale(1 1.05)" text-anchor="end">0.01</text>
<text class="t" transform="translate(637.4 648.46) scale(1 1.05)" text-anchor="end">0.02</text>
<text class="t" transform="translate(637.4 621.39) scale(1 1.05)" text-anchor="end">0.03</text>
<text class="t" transform="translate(637.4 594.31) scale(1 1.05)" text-anchor="end">0.04</text>
<text class="t" transform="translate(637.4 567.24) scale(1 1.05)" text-anchor="end">0.05</text>
<text class="t" transform="translate(637.4 540.17) scale(1 1.05)" text-anchor="end">0.06</text>
<text class="t" transform="translate(637.4 513.1) scale(1 1.05)" text-anchor="end">0.07</text>
<path d="M105.3 938.8V930.47M105.3 749.2V757.53M160.18 938.8V930.47M160.18 749.2V757.53M215.06 938.8V930.47M215.06 749.2V757.53M269.94 938.8V930.47M269.94 749.2V757.53M324.82 938.8V930.47M324.82 749.2V757.53M379.7 938.8V930.47M379.7 749.2V757.53M434.58 938.8V930.47M434.58 749.2V757.53M489.46 938.8V930.47M489.46 749.2V757.53M105.3 938.8H113.63M516.9 938.8H508.57M105.3 915.1H113.63M516.9 915.1H508.57M105.3 891.4H113.63M516.9 891.4H508.57M105.3 867.7H113.63M516.9 867.7H508.57M105.3 844H113.63M516.9 844H508.57M105.3 820.3H113.63M516.9 820.3H508.57M105.3 796.6H113.63M516.9 796.6H508.57M105.3 772.9H113.63M516.9 772.9H508.57M105.3 749.2H113.63M516.9 749.2H508.57" stroke="#000" stroke-width="1.05" fill="none"/>
<rect x="105.3" y="749.2" width="411.6" height="189.6" fill="none" stroke="#000" stroke-width="2.0"/>
<text class="t" transform="translate(96.7 946.3) scale(1 1.05)" text-anchor="end">0.0</text>
<text class="t" transform="translate(96.7 922.6) scale(1 1.05)" text-anchor="end">0.2</text>
<text class="t" transform="translate(96.7 898.9) scale(1 1.05)" text-anchor="end">0.4</text>
<text class="t" transform="translate(96.7 875.2) scale(1 1.05)" text-anchor="end">0.6</text>
<text class="t" transform="translate(96.7 851.5) scale(1 1.05)" text-anchor="end">0.8</text>
<text class="t" transform="translate(96.7 827.8) scale(1 1.05)" text-anchor="end">1.0</text>
<text class="t" transform="translate(96.7 804.1) scale(1 1.05)" text-anchor="end">1.2</text>
<text class="t" transform="translate(96.7 780.4) scale(1 1.05)" text-anchor="end">1.4</text>
<text class="t" transform="translate(96.7 756.7) scale(1 1.05)" text-anchor="end">1.6</text>
<text class="t" transform="translate(105.3 966) scale(1 1.05)" text-anchor="middle">0</text>
<text class="t" transform="translate(160.18 966) scale(1 1.05)" text-anchor="middle">2</text>
<text class="t" transform="translate(215.06 966) scale(1 1.05)" text-anchor="middle">4</text>
<text class="t" transform="translate(269.94 966) scale(1 1.05)" text-anchor="middle">6</text>
<text class="t" transform="translate(324.82 966) scale(1 1.05)" text-anchor="middle">8</text>
<text class="t" transform="translate(379.7 966) scale(1 1.05)" text-anchor="middle">10</text>
<text class="t" transform="translate(434.58 966) scale(1 1.05)" text-anchor="middle">12</text>
<text class="t" transform="translate(489.46 966) scale(1 1.05)" text-anchor="middle">14</text>
<path d="M646 938.8V930.47M646 749.2V757.53M920.25 938.8V930.47M920.25 749.2V757.53M1194.5 938.8V930.47M1194.5 749.2V757.53M1468.75 938.8V930.47M1468.75 749.2V757.53M1743 938.8V930.47M1743 749.2V757.53M646 938.8H654.33M1743 938.8H1734.67M646 900.88H654.33M1743 900.88H1734.67M646 862.96H654.33M1743 862.96H1734.67M646 825.04H654.33M1743 825.04H1734.67M646 787.12H654.33M1743 787.12H1734.67M646 749.2H654.33M1743 749.2H1734.67" stroke="#000" stroke-width="1.05" fill="none"/>
<rect x="646" y="749.2" width="1097" height="189.6" fill="none" stroke="#000" stroke-width="2.0"/>
<text class="t" transform="translate(637.4 946.3) scale(1 1.05)" text-anchor="end">0.00</text>
<text class="t" transform="translate(637.4 908.38) scale(1 1.05)" text-anchor="end">0.05</text>
<text class="t" transform="translate(637.4 870.46) scale(1 1.05)" text-anchor="end">0.10</text>
<text class="t" transform="translate(637.4 832.54) scale(1 1.05)" text-anchor="end">0.15</text>
<text class="t" transform="translate(637.4 794.62) scale(1 1.05)" text-anchor="end">0.20</text>
<text class="t" transform="translate(637.4 756.7) scale(1 1.05)" text-anchor="end">0.25</text>
<text class="t" transform="translate(646 966) scale(1 1.05)" text-anchor="middle">0</text>
<text class="t" transform="translate(920.25 966) scale(1 1.05)" text-anchor="middle">50</text>
<text class="t" transform="translate(1194.5 966) scale(1 1.05)" text-anchor="middle">100</text>
<text class="t" transform="translate(1468.75 966) scale(1 1.05)" text-anchor="middle">150</text>
<text class="t" transform="translate(1743 966) scale(1 1.05)" text-anchor="middle">200</text>
<text class="t" transform="translate(565.6 113) rotate(-90) scale(1 1.05)" text-anchor="middle">Neutral</text>
<text class="t" transform="translate(25.3 356.7) rotate(-90) scale(1 1.05)" text-anchor="middle">CLD=0</text>
<text class="t" transform="translate(25.3 600.35) rotate(-90) scale(1 1.05)" text-anchor="middle">CLD=15</text>
<text class="t" transform="translate(41.6 844) rotate(-90) scale(1 1.05)" text-anchor="middle">CLD=60</text>
<text class="t" transform="translate(311.1 1001.1) scale(1 1.05)" text-anchor="middle">Rate [Hz]</text>
<text class="t" transform="translate(1194.5 1001.1) scale(1 1.05)" text-anchor="middle">Rate [Hz]</text>
<text class="mi" x="815.67" y="56.2" textLength="13.93" lengthAdjust="spacingAndGlyphs">v</text>
<text class="ms" x="833.17" y="45.1" textLength="69.73" lengthAdjust="spacingAndGlyphs">Neutral</text>
<text class="a" transform="translate(914.57 56.5) scale(1 1.03)">= 30.95 Hz</text>
<text class="mi" x="228.67" y="299.3" textLength="13.93" lengthAdjust="spacingAndGlyphs">v</text>
<text class="ms" x="242.2" y="306" textLength="21.38" lengthAdjust="spacingAndGlyphs">cp</text>
<text class="ms" x="243.78" y="288.6" textLength="46.06" lengthAdjust="spacingAndGlyphs">CLD</text>
<text class="mr" x="294.58" y="288.6" textLength="13.35" lengthAdjust="spacingAndGlyphs">=</text>
<text class="mr" x="312.66" y="288.6" textLength="11.84" lengthAdjust="spacingAndGlyphs">0</text>
<text class="a" transform="translate(334.17 300.1) scale(1 1.03)">= 4.49 Hz</text>
<text class="mi" x="845.77" y="296.2" textLength="13.93" lengthAdjust="spacingAndGlyphs">v</text>
<text class="ms" x="859.01" y="302.6" textLength="9.52" lengthAdjust="spacingAndGlyphs">r</text>
<text class="ms" x="860.99" y="284.6" textLength="45.71" lengthAdjust="spacingAndGlyphs">CLD</text>
<text class="mr" x="911.4" y="284.6" textLength="13.25" lengthAdjust="spacingAndGlyphs">=</text>
<text class="mr" x="929.35" y="284.6" textLength="11.75" lengthAdjust="spacingAndGlyphs">0</text>
<text class="a" transform="translate(952.27 296.6) scale(1 1.03)">= 36.38 Hz</text>
<text class="mi" x="1102.27" y="383.4" textLength="13.93" lengthAdjust="spacingAndGlyphs">v</text>
<text class="ms" x="1116.53" y="387.5" textLength="9.65" lengthAdjust="spacingAndGlyphs">p</text>
<text class="ms" x="1117.49" y="372" textLength="45.71" lengthAdjust="spacingAndGlyphs">CLD</text>
<text class="mr" x="1167.9" y="372" textLength="13.25" lengthAdjust="spacingAndGlyphs">=</text>
<text class="mr" x="1185.85" y="372" textLength="11.75" lengthAdjust="spacingAndGlyphs">0</text>
<text class="a" transform="translate(1207.87 384) scale(1 1.03)">= 83.09 Hz</text>
<text class="mi" x="240.77" y="556.5" textLength="13.93" lengthAdjust="spacingAndGlyphs">v</text>
<text class="ms" x="254" y="563.5" textLength="21.38" lengthAdjust="spacingAndGlyphs">cp</text>
<text class="ms" x="255.1" y="546.3" textLength="45.34" lengthAdjust="spacingAndGlyphs">CLD</text>
<text class="mr" x="305.1" y="546.3" textLength="13.14" lengthAdjust="spacingAndGlyphs">=</text>
<text class="mr" x="322.9" y="546.3" textLength="23.31" lengthAdjust="spacingAndGlyphs">15</text>
<text class="a" transform="translate(356.57 557.6) scale(1 1.03)">= 4.91 Hz</text>
<text class="mi" x="902.97" y="531.7" textLength="13.93" lengthAdjust="spacingAndGlyphs">v</text>
<text class="ms" x="917.01" y="538.2" textLength="9.52" lengthAdjust="spacingAndGlyphs">r</text>
<text class="ms" x="917.51" y="520.1" textLength="44.98" lengthAdjust="spacingAndGlyphs">CLD</text>
<text class="mr" x="967.12" y="520.1" textLength="13.04" lengthAdjust="spacingAndGlyphs">=</text>
<text class="mr" x="984.78" y="520.1" textLength="23.12" lengthAdjust="spacingAndGlyphs">15</text>
<text class="a" transform="translate(1019.27 532.3) scale(1 1.03)">= 46.83 Hz</text>
<text class="mi" x="937.57" y="556.6" textLength="13.93" lengthAdjust="spacingAndGlyphs">v</text>
<text class="ms" x="952.13" y="564" textLength="9.65" lengthAdjust="spacingAndGlyphs">p</text>
<text class="ms" x="952.01" y="545.1" textLength="45.03" lengthAdjust="spacingAndGlyphs">CLD</text>
<text class="mr" x="1001.67" y="545.1" textLength="13.05" lengthAdjust="spacingAndGlyphs">=</text>
<text class="mr" x="1019.36" y="545.1" textLength="23.15" lengthAdjust="spacingAndGlyphs">15</text>
<text class="a" transform="translate(1053.77 557.2) scale(1 1.03)">= 53.05 Hz</text>
<text class="mi" x="115.67" y="796.2" textLength="13.93" lengthAdjust="spacingAndGlyphs">v</text>
<text class="ms" x="123.1" y="806" textLength="21.38" lengthAdjust="spacingAndGlyphs">cp</text>
<text class="ms" x="131.21" y="784.8" textLength="45.12" lengthAdjust="spacingAndGlyphs">CLD</text>
<text class="mr" x="180.97" y="784.8" textLength="13.08" lengthAdjust="spacingAndGlyphs">=</text>
<text class="mr" x="198.69" y="784.8" textLength="23.19" lengthAdjust="spacingAndGlyphs">60</text>
<text class="a" transform="translate(232.27 796.5) scale(1 1.03)">= 0.13 Hz</text>
<text class="mi" x="795.97" y="810.8" textLength="13.93" lengthAdjust="spacingAndGlyphs">v</text>
<text class="ms" x="810.13" y="818" textLength="9.65" lengthAdjust="spacingAndGlyphs">p</text>
<text class="ms" x="811.32" y="799.8" textLength="44.61" lengthAdjust="spacingAndGlyphs">CLD</text>
<text class="mr" x="860.52" y="799.8" textLength="12.93" lengthAdjust="spacingAndGlyphs">=</text>
<text class="mr" x="878.04" y="799.8" textLength="22.93" lengthAdjust="spacingAndGlyphs">60</text>
<text class="a" transform="translate(912.47 811.4) scale(1 1.03)">= 27.29 Hz</text>
<text class="mi" x="820.87" y="859.7" textLength="13.93" lengthAdjust="spacingAndGlyphs">v</text>
<text class="ms" x="834.31" y="867" textLength="9.52" lengthAdjust="spacingAndGlyphs">r</text>
<text class="ms" x="836.42" y="848.6" textLength="44.66" lengthAdjust="spacingAndGlyphs">CLD</text>
<text class="mr" x="885.68" y="848.6" textLength="12.95" lengthAdjust="spacingAndGlyphs">=</text>
<text class="mr" x="903.22" y="848.6" textLength="22.96" lengthAdjust="spacingAndGlyphs">60</text>
<text class="a" transform="translate(937.37 860.3) scale(1 1.03)">= 31.84 Hz</text>
</svg>
</body></html>
